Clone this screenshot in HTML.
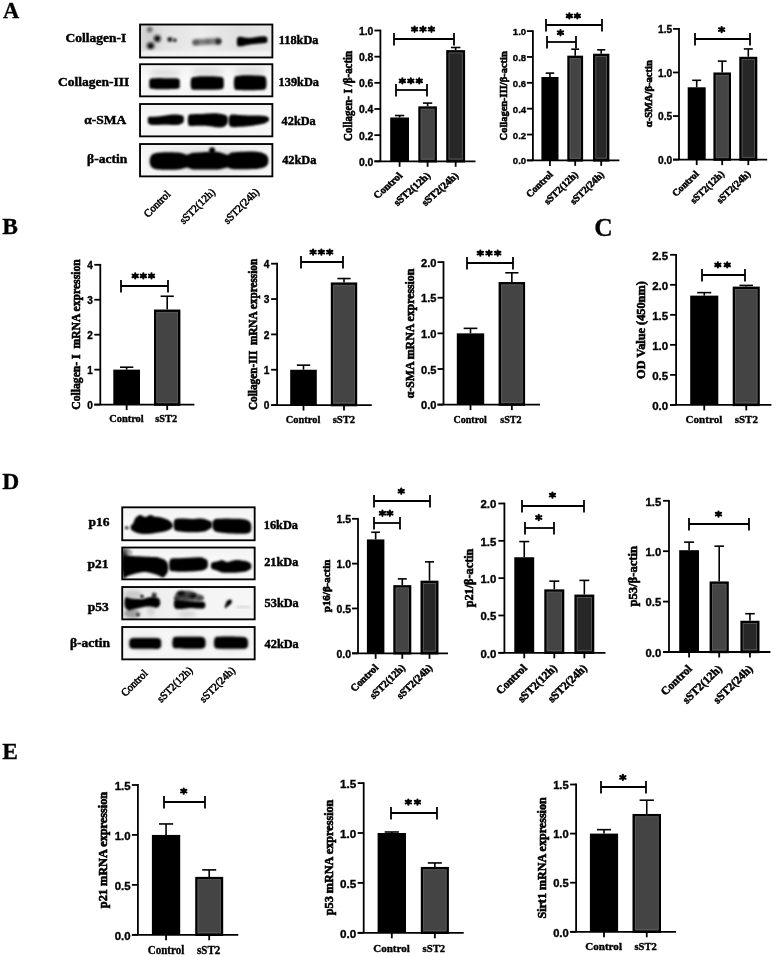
<!DOCTYPE html>
<html><head><meta charset="utf-8"><title>Figure</title>
<style>html,body{margin:0;padding:0;background:#fff;width:779px;height:957px;overflow:hidden;font-family:"Liberation Serif",serif}svg{display:block;filter:grayscale(1)}</style>
</head><body>
<svg width="779" height="957" viewBox="0 0 779 957"><defs>
<linearGradient id="bg" x1="0" y1="0" x2="0" y2="1"><stop offset="0" stop-color="#f2f2f2"/><stop offset="0.5" stop-color="#fafafa"/><stop offset="1" stop-color="#f4f4f4"/></linearGradient>
<linearGradient id="bg1" x1="0" y1="0" x2="1" y2="0"><stop offset="0" stop-color="#d6d6d6"/><stop offset="0.2" stop-color="#e2e2e2"/><stop offset="0.45" stop-color="#ececec"/><stop offset="0.75" stop-color="#e0e0e0"/><stop offset="1" stop-color="#e6e6e6"/></linearGradient>
<linearGradient id="bg2" x1="0" y1="0" x2="1" y2="0"><stop offset="0" stop-color="#e6e6e6"/><stop offset="0.5" stop-color="#f4f4f4"/><stop offset="1" stop-color="#f6f6f6"/></linearGradient>
<clipPath id="clip0"><rect x="140.03" y="24.53" width="132.35" height="32.95"/></clipPath><clipPath id="clip1"><rect x="140.03" y="64.22" width="132.35" height="32.15"/></clipPath><clipPath id="clip2"><rect x="140.03" y="104.02" width="132.35" height="32.35"/></clipPath><clipPath id="clip3"><rect x="140.03" y="144.03" width="132.35" height="32.35"/></clipPath><clipPath id="clip4"><rect x="122.22" y="507.32" width="132.45" height="32.95"/></clipPath><clipPath id="clip5"><rect x="122.22" y="547.52" width="132.45" height="31.85"/></clipPath><clipPath id="clip6"><rect x="122.22" y="587.02" width="132.45" height="32.35"/></clipPath><clipPath id="clip7"><rect x="122.22" y="627.02" width="132.45" height="32.35"/></clipPath><filter id="b5" x="-30%" y="-60%" width="160%" height="220%"><feGaussianBlur stdDeviation="0.5"/></filter><filter id="b6" x="-30%" y="-60%" width="160%" height="220%"><feGaussianBlur stdDeviation="0.6"/></filter><filter id="b7" x="-30%" y="-60%" width="160%" height="220%"><feGaussianBlur stdDeviation="0.7"/></filter><filter id="b8" x="-30%" y="-60%" width="160%" height="220%"><feGaussianBlur stdDeviation="0.8"/></filter><filter id="b9" x="-30%" y="-60%" width="160%" height="220%"><feGaussianBlur stdDeviation="0.9"/></filter><filter id="b10" x="-30%" y="-60%" width="160%" height="220%"><feGaussianBlur stdDeviation="1.0"/></filter><filter id="b11" x="-30%" y="-60%" width="160%" height="220%"><feGaussianBlur stdDeviation="1.1"/></filter><filter id="b12" x="-30%" y="-60%" width="160%" height="220%"><feGaussianBlur stdDeviation="1.2"/></filter><filter id="b13" x="-30%" y="-60%" width="160%" height="220%"><feGaussianBlur stdDeviation="1.3"/></filter><filter id="b14" x="-30%" y="-60%" width="160%" height="220%"><feGaussianBlur stdDeviation="1.4"/></filter><filter id="b15" x="-30%" y="-60%" width="160%" height="220%"><feGaussianBlur stdDeviation="1.5"/></filter><filter id="b16" x="-30%" y="-60%" width="160%" height="220%"><feGaussianBlur stdDeviation="1.6"/></filter><filter id="b17" x="-30%" y="-60%" width="160%" height="220%"><feGaussianBlur stdDeviation="1.7"/></filter><filter id="b18" x="-30%" y="-60%" width="160%" height="220%"><feGaussianBlur stdDeviation="1.8"/></filter><filter id="b19" x="-30%" y="-60%" width="160%" height="220%"><feGaussianBlur stdDeviation="1.9"/></filter><filter id="b20" x="-30%" y="-60%" width="160%" height="220%"><feGaussianBlur stdDeviation="2.0"/></filter><filter id="b21" x="-30%" y="-60%" width="160%" height="220%"><feGaussianBlur stdDeviation="2.1"/></filter><filter id="b22" x="-30%" y="-60%" width="160%" height="220%"><feGaussianBlur stdDeviation="2.2"/></filter><filter id="b23" x="-30%" y="-60%" width="160%" height="220%"><feGaussianBlur stdDeviation="2.3"/></filter><filter id="b24" x="-30%" y="-60%" width="160%" height="220%"><feGaussianBlur stdDeviation="2.4"/></filter><filter id="b25" x="-30%" y="-60%" width="160%" height="220%"><feGaussianBlur stdDeviation="2.5"/></filter><filter id="b26" x="-30%" y="-60%" width="160%" height="220%"><feGaussianBlur stdDeviation="2.6"/></filter><filter id="b27" x="-30%" y="-60%" width="160%" height="220%"><feGaussianBlur stdDeviation="2.7"/></filter><filter id="b28" x="-30%" y="-60%" width="160%" height="220%"><feGaussianBlur stdDeviation="2.8"/></filter><filter id="b29" x="-30%" y="-60%" width="160%" height="220%"><feGaussianBlur stdDeviation="2.9"/></filter><filter id="b30" x="-30%" y="-60%" width="160%" height="220%"><feGaussianBlur stdDeviation="3.0"/></filter></defs><rect x="140.03" y="24.53" width="132.35" height="32.95" fill="url(#bg1)"/><g clip-path="url(#clip0)"><ellipse cx="150.00" cy="38.00" rx="8.00" ry="14.00" fill="#c8c8c8" opacity="0.5" filter="url(#b30)"/><ellipse cx="149.70" cy="29.60" rx="2.60" ry="2.60" fill="#444" opacity="0.85" filter="url(#b18)"/><ellipse cx="157.30" cy="38.60" rx="3.40" ry="3.40" fill="#111" opacity="1" filter="url(#b16)"/><ellipse cx="150.60" cy="45.80" rx="3.60" ry="3.40" fill="#111" opacity="1" filter="url(#b16)"/><ellipse cx="169.90" cy="39.50" rx="2.60" ry="2.40" fill="#222" opacity="0.95" filter="url(#b11)"/><ellipse cx="174.80" cy="40.20" rx="2.00" ry="2.00" fill="#333" opacity="0.95" filter="url(#b10)"/><rect x="141" y="51" width="130" height="5.5" fill="#f4f4f4" filter="url(#b15)"/><path d="M192.55,42.55 C192.63,42.08 191.93,40.35 193.00,39.75 C194.07,39.15 196.83,39.10 199.00,38.95 C201.17,38.80 203.67,38.97 206.00,38.85 C208.33,38.73 210.67,38.38 213.00,38.25 C215.33,38.12 218.74,37.52 220.00,38.05 C221.26,38.58 220.54,40.32 220.54,41.45 C220.54,42.58 221.26,44.33 220.00,44.85 C218.74,45.37 215.33,44.55 213.00,44.55 C210.67,44.55 208.33,44.72 206.00,44.85 C203.67,44.98 201.17,45.27 199.00,45.35 C196.83,45.43 194.07,45.82 193.00,45.35 C191.93,44.88 192.63,43.02 192.55,42.55 Z" fill="#707070" opacity="0.9" filter="url(#b15)"/><ellipse cx="196.00" cy="42.50" rx="3.00" ry="2.20" fill="#555" opacity="0.8" filter="url(#b12)"/><ellipse cx="208.00" cy="41.50" rx="3.00" ry="2.00" fill="#666" opacity="0.7" filter="url(#b12)"/><ellipse cx="218.40" cy="41.30" rx="3.00" ry="2.60" fill="#2a2a2a" opacity="1" filter="url(#b12)"/><path d="M236.84,41.75 C236.95,41.07 236.81,38.47 237.50,37.65 C238.19,36.83 239.58,36.82 241.00,36.85 C242.42,36.88 244.17,37.68 246.00,37.85 C247.83,38.02 250.00,38.02 252.00,37.85 C254.00,37.68 256.00,37.10 258.00,36.85 C260.00,36.60 262.50,36.25 264.00,36.35 C265.50,36.45 266.43,36.86 267.00,37.45 C267.57,38.04 267.39,39.08 267.39,39.90 C267.39,40.72 267.57,41.77 267.00,42.35 C266.43,42.92 265.50,43.13 264.00,43.35 C262.50,43.57 260.00,43.50 258.00,43.65 C256.00,43.80 254.00,44.00 252.00,44.25 C250.00,44.50 247.83,44.80 246.00,45.15 C244.17,45.50 242.42,46.23 241.00,46.35 C239.58,46.47 238.19,46.62 237.50,45.85 C236.81,45.08 236.95,42.43 236.84,41.75 Z" fill="#000" opacity="1" filter="url(#b9)"/></g><rect x="140.03" y="24.53" width="132.35" height="32.95" fill="none" stroke="#000" stroke-width="1.85"/>
<rect x="140.03" y="64.22" width="132.35" height="32.15" fill="url(#bg)"/><g clip-path="url(#clip1)"><ellipse cx="165.00" cy="73.00" rx="16.00" ry="4.00" fill="#d8d8d8" opacity="0.8" filter="url(#b25)"/><ellipse cx="207.00" cy="72.00" rx="16.00" ry="4.50" fill="#d8d8d8" opacity="0.8" filter="url(#b25)"/><ellipse cx="250.00" cy="71.50" rx="16.00" ry="4.50" fill="#d8d8d8" opacity="0.8" filter="url(#b25)"/><path d="M149.25,83.65 C149.37,82.87 148.87,79.87 150.00,78.95 C151.13,78.03 153.67,78.27 156.00,78.15 C158.33,78.03 161.33,78.23 164.00,78.25 C166.67,78.27 169.50,78.13 172.00,78.25 C174.50,78.37 177.71,78.05 179.00,78.95 C180.29,79.85 179.75,82.08 179.75,83.65 C179.75,85.22 180.29,87.47 179.00,88.35 C177.71,89.23 174.50,88.80 172.00,88.95 C169.50,89.10 166.67,89.22 164.00,89.25 C161.33,89.28 158.33,89.30 156.00,89.15 C153.67,89.00 151.13,89.27 150.00,88.35 C148.87,87.43 149.37,84.43 149.25,83.65 Z" fill="#000" opacity="1" filter="url(#b9)"/><path d="M190.61,83.50 C190.76,82.58 190.60,79.09 191.50,77.95 C192.40,76.81 193.92,76.93 196.00,76.65 C198.08,76.37 201.33,76.32 204.00,76.25 C206.67,76.18 209.50,76.17 212.00,76.25 C214.50,76.33 217.17,76.50 219.00,76.75 C220.83,77.00 222.19,76.68 223.00,77.75 C223.81,78.82 223.86,81.35 223.86,83.15 C223.86,84.95 223.81,87.50 223.00,88.55 C222.19,89.60 220.83,89.25 219.00,89.45 C217.17,89.65 214.50,89.68 212.00,89.75 C209.50,89.82 206.67,89.85 204.00,89.85 C201.33,89.85 198.08,89.88 196.00,89.75 C193.92,89.62 192.40,90.09 191.50,89.05 C190.60,88.01 190.76,84.42 190.61,83.50 Z" fill="#000" opacity="1" filter="url(#b9)"/><path d="M233.82,83.05 C233.99,82.03 233.94,78.18 234.80,76.95 C235.66,75.72 236.97,75.92 239.00,75.65 C241.03,75.38 244.33,75.38 247.00,75.35 C249.67,75.32 252.50,75.38 255.00,75.45 C257.50,75.52 260.23,75.45 262.00,75.75 C263.77,76.05 264.85,76.04 265.60,77.25 C266.35,78.46 266.52,81.08 266.52,83.00 C266.52,84.92 266.35,87.61 265.60,88.75 C264.85,89.89 263.77,89.62 262.00,89.85 C260.23,90.08 257.50,90.10 255.00,90.15 C252.50,90.20 249.67,90.17 247.00,90.15 C244.33,90.13 241.03,90.22 239.00,90.05 C236.97,89.88 235.66,90.32 234.80,89.15 C233.94,87.98 233.99,84.07 233.82,83.05 Z" fill="#000" opacity="1" filter="url(#b9)"/></g><rect x="140.03" y="64.22" width="132.35" height="32.15" fill="none" stroke="#000" stroke-width="1.85"/>
<rect x="140.03" y="104.02" width="132.35" height="32.35" fill="url(#bg)"/><g clip-path="url(#clip2)"><path d="M147.80,120.20 C147.88,119.67 147.77,117.64 148.30,117.05 C148.83,116.46 149.38,116.75 151.00,116.65 C152.62,116.55 155.67,116.65 158.00,116.45 C160.33,116.25 162.67,115.78 165.00,115.45 C167.33,115.12 169.67,114.58 172.00,114.45 C174.33,114.32 177.12,114.40 179.00,114.65 C180.88,114.90 182.50,115.20 183.30,115.95 C184.10,116.70 183.81,118.08 183.81,119.15 C183.81,120.22 184.10,121.42 183.30,122.35 C182.50,123.28 180.88,124.30 179.00,124.75 C177.12,125.20 174.33,125.03 172.00,125.05 C169.67,125.07 167.33,124.85 165.00,124.85 C162.67,124.85 160.33,125.07 158.00,125.05 C155.67,125.03 152.62,125.03 151.00,124.75 C149.38,124.47 148.83,124.11 148.30,123.35 C147.77,122.59 147.88,120.72 147.80,120.20 Z" fill="#000" opacity="1" filter="url(#b9)"/><path d="M187.73,120.25 C187.86,119.45 187.96,116.45 188.50,115.45 C189.04,114.45 189.08,114.50 191.00,114.25 C192.92,114.00 196.83,114.08 200.00,113.95 C203.17,113.82 207.00,113.53 210.00,113.45 C213.00,113.37 215.67,113.28 218.00,113.45 C220.33,113.62 222.45,113.95 224.00,114.45 C225.55,114.95 226.66,115.53 227.30,116.45 C227.94,117.38 227.87,118.82 227.87,120.00 C227.87,121.18 227.94,122.42 227.30,123.55 C226.66,124.67 225.55,126.12 224.00,126.75 C222.45,127.38 220.33,127.45 218.00,127.35 C215.67,127.25 213.00,126.40 210.00,126.15 C207.00,125.90 203.17,125.87 200.00,125.85 C196.83,125.83 192.92,126.18 191.00,126.05 C189.08,125.92 189.04,126.02 188.50,125.05 C187.96,124.08 187.86,121.05 187.73,120.25 Z" fill="#000" opacity="1" filter="url(#b9)"/><path d="M228.51,120.75 C228.63,120.03 228.62,117.50 229.20,116.45 C229.78,115.40 230.20,114.70 232.00,114.45 C233.80,114.20 237.00,114.78 240.00,114.95 C243.00,115.12 247.00,115.37 250.00,115.45 C253.00,115.53 255.50,115.37 258.00,115.45 C260.50,115.53 263.23,115.62 265.00,115.95 C266.77,116.28 267.95,116.90 268.60,117.45 C269.25,118.00 268.89,118.65 268.89,119.25 C268.89,119.85 269.25,120.40 268.60,121.05 C267.95,121.70 266.77,122.53 265.00,123.15 C263.23,123.77 260.50,124.27 258.00,124.75 C255.50,125.23 253.00,125.70 250.00,126.05 C247.00,126.40 243.00,126.68 240.00,126.85 C237.00,127.02 233.80,127.35 232.00,127.05 C230.20,126.75 229.78,126.10 229.20,125.05 C228.62,124.00 228.63,121.47 228.51,120.75 Z" fill="#000" opacity="1" filter="url(#b9)"/></g><rect x="140.03" y="104.02" width="132.35" height="32.35" fill="none" stroke="#000" stroke-width="1.85"/>
<rect x="140.03" y="144.03" width="132.35" height="32.35" fill="url(#bg)"/><g clip-path="url(#clip3)"><ellipse cx="208.00" cy="160.50" rx="60.00" ry="10.50" fill="#bbb" opacity="0.5" filter="url(#b30)"/><path d="M149.69,161.25 C149.79,160.62 149.75,158.65 150.30,157.45 C150.85,156.25 151.38,154.87 153.00,154.05 C154.62,153.23 157.17,152.85 160.00,152.55 C162.83,152.25 166.67,152.20 170.00,152.25 C173.33,152.30 177.17,152.43 180.00,152.85 C182.83,153.27 185.00,154.73 187.00,154.75 C189.00,154.77 189.83,153.33 192.00,152.95 C194.17,152.57 196.67,152.63 200.00,152.45 C203.33,152.27 208.67,151.85 212.00,151.85 C215.33,151.85 217.40,151.98 220.00,152.45 C222.60,152.92 225.60,154.65 227.60,154.65 C229.60,154.65 229.10,152.95 232.00,152.45 C234.90,151.95 240.67,151.73 245.00,151.65 C249.33,151.57 254.67,151.57 258.00,151.95 C261.33,152.33 263.37,153.12 265.00,153.95 C266.63,154.78 267.24,155.86 267.80,156.95 C268.36,158.04 268.37,159.32 268.37,160.50 C268.37,161.68 268.36,162.96 267.80,164.05 C267.24,165.14 266.63,166.28 265.00,167.05 C263.37,167.82 261.33,168.30 258.00,168.65 C254.67,169.00 249.33,169.08 245.00,169.15 C240.67,169.22 234.90,169.32 232.00,169.05 C229.10,168.78 229.60,167.53 227.60,167.55 C225.60,167.57 222.60,168.82 220.00,169.15 C217.40,169.48 215.33,169.48 212.00,169.55 C208.67,169.62 203.33,169.62 200.00,169.55 C196.67,169.48 194.17,169.48 192.00,169.15 C189.83,168.82 189.00,167.53 187.00,167.55 C185.00,167.57 182.83,168.87 180.00,169.25 C177.17,169.63 173.33,169.80 170.00,169.85 C166.67,169.90 162.83,169.83 160.00,169.55 C157.17,169.27 154.62,168.90 153.00,168.15 C151.38,167.40 150.85,166.20 150.30,165.05 C149.75,163.90 149.79,161.88 149.69,161.25 Z" fill="#000" opacity="1" filter="url(#b10)"/><ellipse cx="212.10" cy="150.60" rx="3.00" ry="3.40" fill="#000" opacity="1" filter="url(#b11)"/></g><rect x="140.03" y="144.03" width="132.35" height="32.35" fill="none" stroke="#000" stroke-width="1.85"/>
<rect x="122.22" y="507.32" width="132.45" height="32.95" fill="url(#bg)"/><g clip-path="url(#clip4)"><ellipse cx="126.70" cy="527.70" rx="1.80" ry="1.50" fill="#111" opacity="1" filter="url(#b9)"/><path d="M130.67,527.50 C130.73,527.16 130.61,526.12 131.00,525.45 C131.39,524.78 132.28,524.67 133.00,523.45 C133.72,522.23 134.47,519.40 135.30,518.15 C136.13,516.90 137.10,516.47 138.00,515.95 C138.90,515.43 139.50,514.87 140.70,515.05 C141.90,515.23 143.57,517.05 145.20,517.05 C146.83,517.05 149.02,515.15 150.50,515.05 C151.98,514.95 152.45,516.08 154.10,516.45 C155.75,516.82 158.30,516.78 160.40,517.25 C162.50,517.72 165.05,518.55 166.70,519.25 C168.35,519.95 169.33,520.67 170.30,521.45 C171.27,522.23 172.09,523.25 172.50,523.95 C172.91,524.65 172.77,525.08 172.77,525.65 C172.77,526.22 172.91,526.73 172.50,527.35 C172.09,527.97 171.27,528.75 170.30,529.35 C169.33,529.95 168.35,530.45 166.70,530.95 C165.05,531.45 162.50,531.95 160.40,532.35 C158.30,532.75 155.75,533.10 154.10,533.35 C152.45,533.60 151.98,533.73 150.50,533.85 C149.02,533.97 146.83,534.07 145.20,534.05 C143.57,534.03 141.90,533.90 140.70,533.75 C139.50,533.60 138.90,533.38 138.00,533.15 C137.10,532.92 136.13,532.70 135.30,532.35 C134.47,532.00 133.72,531.52 133.00,531.05 C132.28,530.58 131.39,530.14 131.00,529.55 C130.61,528.96 130.73,527.84 130.67,527.50 Z" fill="#000" opacity="1" filter="url(#b10)"/><path d="M173.51,524.75 C173.63,524.03 173.70,521.47 174.20,520.45 C174.70,519.43 174.87,518.98 176.50,518.65 C178.13,518.32 181.42,518.38 184.00,518.45 C186.58,518.52 189.33,519.05 192.00,519.05 C194.67,519.05 197.67,518.38 200.00,518.45 C202.33,518.52 204.08,518.87 206.00,519.45 C207.92,520.03 210.51,521.07 211.50,521.95 C212.49,522.83 211.95,523.82 211.95,524.75 C211.95,525.68 212.49,526.50 211.50,527.55 C210.51,528.60 207.92,530.32 206.00,531.05 C204.08,531.78 202.33,531.73 200.00,531.95 C197.67,532.17 194.67,532.33 192.00,532.35 C189.33,532.37 186.58,532.27 184.00,532.05 C181.42,531.83 178.13,531.55 176.50,531.05 C174.87,530.55 174.70,530.10 174.20,529.05 C173.70,528.00 173.63,525.47 173.51,524.75 Z" fill="#000" opacity="1" filter="url(#b10)"/><path d="M212.23,525.00 C212.33,524.41 212.24,522.46 212.80,521.45 C213.36,520.44 214.07,519.42 215.60,518.95 C217.13,518.48 219.27,518.70 222.00,518.65 C224.73,518.60 229.00,518.62 232.00,518.65 C235.00,518.68 237.50,518.63 240.00,518.85 C242.50,519.07 245.23,519.27 247.00,519.95 C248.77,520.63 249.89,521.73 250.60,522.95 C251.31,524.17 251.29,525.82 251.29,527.25 C251.29,528.68 251.31,530.50 250.60,531.55 C249.89,532.60 248.77,533.18 247.00,533.55 C245.23,533.92 242.50,533.75 240.00,533.75 C237.50,533.75 235.00,533.72 232.00,533.55 C229.00,533.38 224.73,533.08 222.00,532.75 C219.27,532.42 217.13,532.25 215.60,531.55 C214.07,530.85 213.36,529.64 212.80,528.55 C212.24,527.46 212.33,525.59 212.23,525.00 Z" fill="#000" opacity="1" filter="url(#b10)"/></g><rect x="122.22" y="507.32" width="132.45" height="32.95" fill="none" stroke="#000" stroke-width="1.85"/>
<rect x="122.22" y="547.52" width="132.45" height="31.85" fill="url(#bg)"/><g clip-path="url(#clip5)"><path d="M121.25,563.65 C121.64,561.20 122.81,550.73 123.60,548.95 C124.39,547.17 125.10,551.87 126.00,552.95 C126.90,554.03 127.00,554.88 129.00,555.45 C131.00,556.02 135.00,556.15 138.00,556.35 C141.00,556.55 144.00,556.53 147.00,556.65 C150.00,556.77 153.77,556.80 156.00,557.05 C158.23,557.30 159.22,557.83 160.40,558.15 C161.58,558.47 162.20,558.50 163.10,558.95 C164.00,559.40 165.05,560.10 165.80,560.85 C166.55,561.60 167.19,562.30 167.60,563.45 C168.01,564.60 168.29,566.32 168.29,567.75 C168.29,569.18 168.01,570.83 167.60,572.05 C167.19,573.27 166.55,574.13 165.80,575.05 C165.05,575.97 164.00,577.30 163.10,577.55 C162.20,577.80 161.58,577.05 160.40,576.55 C159.22,576.05 158.23,575.28 156.00,574.55 C153.77,573.82 150.00,572.42 147.00,572.15 C144.00,571.88 141.00,572.38 138.00,572.95 C135.00,573.52 131.00,574.87 129.00,575.55 C127.00,576.23 126.90,576.58 126.00,577.05 C125.10,577.52 124.39,580.58 123.60,578.35 C122.81,576.12 121.64,566.10 121.25,563.65 Z" fill="#000" opacity="1" filter="url(#b10)"/><ellipse cx="126.00" cy="552.00" rx="3.50" ry="4.00" fill="#555" opacity="0.8" filter="url(#b15)"/><ellipse cx="129.90" cy="552.60" rx="2.50" ry="2.50" fill="#999" opacity="0.7" filter="url(#b12)"/><path d="M169.03,565.25 C169.16,564.45 169.31,561.58 169.80,560.45 C170.29,559.32 170.30,558.83 172.00,558.45 C173.70,558.07 177.00,558.27 180.00,558.15 C183.00,558.03 186.75,557.90 190.00,557.75 C193.25,557.60 197.17,557.17 199.50,557.25 C201.83,557.33 202.70,557.72 204.00,558.25 C205.30,558.78 206.66,559.49 207.30,560.45 C207.94,561.41 207.87,562.82 207.87,564.00 C207.87,565.18 207.94,566.56 207.30,567.55 C206.66,568.54 205.30,569.42 204.00,569.95 C202.70,570.48 201.83,570.48 199.50,570.75 C197.17,571.02 193.25,571.37 190.00,571.55 C186.75,571.73 183.00,571.88 180.00,571.85 C177.00,571.82 173.70,571.65 172.00,571.35 C170.30,571.05 170.29,571.07 169.80,570.05 C169.31,569.03 169.16,566.05 169.03,565.25 Z" fill="#000" opacity="1" filter="url(#b10)"/><path d="M210.89,565.80 C210.96,565.38 210.95,563.84 211.30,563.25 C211.65,562.66 211.88,562.58 213.00,562.25 C214.12,561.92 216.50,561.63 218.00,561.25 C219.50,560.87 220.45,559.82 222.00,559.95 C223.55,560.08 225.07,562.05 227.30,562.05 C229.53,562.05 232.55,560.15 235.40,559.95 C238.25,559.75 242.15,560.47 244.40,560.85 C246.65,561.23 247.80,561.73 248.90,562.25 C250.00,562.77 250.59,563.28 251.00,563.95 C251.41,564.62 251.37,565.48 251.37,566.25 C251.37,567.02 251.41,567.92 251.00,568.55 C250.59,569.18 250.00,569.50 248.90,570.05 C247.80,570.60 246.65,571.40 244.40,571.85 C242.15,572.30 238.25,572.60 235.40,572.75 C232.55,572.90 229.53,572.78 227.30,572.75 C225.07,572.72 223.55,572.83 222.00,572.55 C220.45,572.27 219.50,571.58 218.00,571.05 C216.50,570.52 214.12,569.80 213.00,569.35 C211.88,568.90 211.65,568.94 211.30,568.35 C210.95,567.76 210.96,566.22 210.89,565.80 Z" fill="#000" opacity="1" filter="url(#b10)"/></g><rect x="122.22" y="547.52" width="132.45" height="31.85" fill="none" stroke="#000" stroke-width="1.85"/>
<rect x="122.22" y="587.02" width="132.45" height="32.35" fill="url(#bg2)"/><g clip-path="url(#clip6)"><ellipse cx="133.00" cy="594.50" rx="9.00" ry="4.00" fill="#c4c4c4" opacity="0.8" filter="url(#b18)"/><ellipse cx="132.00" cy="613.50" rx="8.00" ry="4.50" fill="#8c8c8c" opacity="0.8" filter="url(#b18)"/><ellipse cx="138.00" cy="614.90" rx="1.60" ry="1.40" fill="#111" opacity="1" filter="url(#b9)"/><ellipse cx="142.00" cy="596.30" rx="1.70" ry="1.60" fill="#000" opacity="1" filter="url(#b8)"/><ellipse cx="151.00" cy="611.00" rx="3.00" ry="5.00" fill="#bbb" opacity="0.6" filter="url(#b20)"/><ellipse cx="154.10" cy="595.50" rx="2.50" ry="3.00" fill="#222" opacity="0.9" filter="url(#b11)"/><path d="M124.31,602.75 C124.43,602.03 124.67,599.37 125.00,598.45 C125.33,597.53 125.63,597.33 126.30,597.25 C126.97,597.17 127.80,597.70 129.00,597.95 C130.20,598.20 132.00,598.57 133.50,598.75 C135.00,598.93 136.50,599.00 138.00,599.05 C139.50,599.10 141.00,599.27 142.50,599.05 C144.00,598.83 145.42,598.10 147.00,597.75 C148.58,597.40 150.50,597.00 152.00,596.95 C153.50,596.90 154.92,597.23 156.00,597.45 C157.08,597.67 157.87,597.83 158.50,598.25 C159.13,598.67 159.51,599.22 159.80,599.95 C160.09,600.68 160.23,601.75 160.23,602.65 C160.23,603.55 160.09,604.65 159.80,605.35 C159.51,606.05 159.13,606.43 158.50,606.85 C157.87,607.27 157.08,607.85 156.00,607.85 C154.92,607.85 153.50,607.07 152.00,606.85 C150.50,606.63 148.58,606.47 147.00,606.55 C145.42,606.63 144.00,607.08 142.50,607.35 C141.00,607.62 139.50,607.82 138.00,608.15 C136.50,608.48 135.00,608.95 133.50,609.35 C132.00,609.75 130.20,610.65 129.00,610.55 C127.80,610.45 126.97,609.33 126.30,608.75 C125.63,608.17 125.33,608.05 125.00,607.05 C124.67,606.05 124.43,603.47 124.31,602.75 Z" fill="#000" opacity="1" filter="url(#b9)"/><ellipse cx="188.00" cy="597.50" rx="13.00" ry="5.50" fill="#6a6a6a" opacity="0.85" filter="url(#b16)"/><ellipse cx="186.00" cy="595.50" rx="10.50" ry="4.50" fill="#3a3a3a" opacity="0.9" filter="url(#b14)"/><ellipse cx="181.00" cy="593.50" rx="4.00" ry="2.50" fill="#111" opacity="1" filter="url(#b10)"/><ellipse cx="193.00" cy="596.00" rx="3.50" ry="2.20" fill="#111" opacity="1" filter="url(#b10)"/><ellipse cx="200.00" cy="598.00" rx="4.00" ry="3.00" fill="#444" opacity="0.9" filter="url(#b13)"/><ellipse cx="177.00" cy="598.50" rx="3.00" ry="2.50" fill="#333" opacity="0.9" filter="url(#b12)"/><ellipse cx="187.00" cy="614.00" rx="9.00" ry="4.00" fill="#c8c8c8" opacity="0.6" filter="url(#b20)"/><path d="M173.81,604.00 C173.89,603.49 173.94,601.66 174.30,600.95 C174.66,600.24 174.72,599.87 176.00,599.75 C177.28,599.63 179.67,600.00 182.00,600.25 C184.33,600.50 187.33,601.05 190.00,601.25 C192.67,601.45 195.83,601.37 198.00,601.45 C200.17,601.53 201.83,601.50 203.00,601.75 C204.17,602.00 204.61,602.38 205.00,602.95 C205.39,603.52 205.35,604.42 205.35,605.15 C205.35,605.88 205.39,606.78 205.00,607.35 C204.61,607.92 204.17,608.35 203.00,608.55 C201.83,608.75 200.17,608.63 198.00,608.55 C195.83,608.47 192.67,607.97 190.00,608.05 C187.33,608.13 184.33,608.93 182.00,609.05 C179.67,609.17 177.28,609.08 176.00,608.75 C174.72,608.42 174.66,607.84 174.30,607.05 C173.94,606.26 173.89,604.51 173.81,604.00 Z" fill="#000" opacity="1" filter="url(#b9)"/><path d="M231.8,600.5 C232.5,603.5 229.8,605 227.5,606.5 C226.5,607.5 225.5,608.8 224.8,607.8 C224.3,606.5 225.6,604.8 226,603 C226.5,600.5 228.5,599.3 230.2,599.4 C231.2,599.5 231.7,599.9 231.8,600.5 Z" fill="#000" filter="url(#b8)"/><ellipse cx="243.00" cy="607.00" rx="8.00" ry="0.90" fill="#bbb" opacity="0.6" filter="url(#b10)"/></g><rect x="122.22" y="587.02" width="132.45" height="32.35" fill="none" stroke="#000" stroke-width="1.85"/>
<rect x="122.22" y="627.02" width="132.45" height="32.35" fill="url(#bg)"/><g clip-path="url(#clip7)"><ellipse cx="145.00" cy="643.30" rx="19.00" ry="8.00" fill="#d0d0d0" opacity="0.6" filter="url(#b25)"/><ellipse cx="189.00" cy="643.00" rx="19.00" ry="8.00" fill="#d0d0d0" opacity="0.6" filter="url(#b25)"/><ellipse cx="231.00" cy="643.00" rx="20.00" ry="8.00" fill="#d0d0d0" opacity="0.6" filter="url(#b25)"/><path d="M129.23,643.50 C129.33,642.91 129.34,640.83 129.80,639.95 C130.26,639.08 130.30,638.57 132.00,638.25 C133.70,637.93 137.00,638.08 140.00,638.05 C143.00,638.02 147.17,638.05 150.00,638.05 C152.83,638.05 155.25,637.82 157.00,638.05 C158.75,638.28 159.81,638.54 160.50,639.45 C161.19,640.36 161.15,642.15 161.15,643.50 C161.15,644.85 161.19,646.64 160.50,647.55 C159.81,648.46 158.75,648.73 157.00,648.95 C155.25,649.17 152.83,648.87 150.00,648.85 C147.17,648.83 143.00,648.90 140.00,648.85 C137.00,648.80 133.70,648.85 132.00,648.55 C130.30,648.25 130.26,647.89 129.80,647.05 C129.34,646.21 129.33,644.09 129.23,643.50 Z" fill="#000" opacity="1" filter="url(#b12)"/><path d="M172.35,643.00 C172.46,642.33 172.56,639.94 173.00,638.95 C173.44,637.96 173.00,637.42 175.00,637.05 C177.00,636.68 181.67,636.80 185.00,636.75 C188.33,636.70 192.17,636.72 195.00,636.75 C197.83,636.78 200.35,636.58 202.00,636.95 C203.65,637.32 204.31,637.94 204.90,638.95 C205.49,639.96 205.55,641.65 205.55,643.00 C205.55,644.35 205.49,646.14 204.90,647.05 C204.31,647.96 203.65,648.18 202.00,648.45 C200.35,648.72 197.83,648.62 195.00,648.65 C192.17,648.68 188.33,648.70 185.00,648.65 C181.67,648.60 177.00,648.62 175.00,648.35 C173.00,648.08 173.44,647.94 173.00,647.05 C172.56,646.16 172.46,643.67 172.35,643.00 Z" fill="#000" opacity="1" filter="url(#b12)"/><path d="M213.95,643.00 C214.06,642.33 214.09,639.98 214.60,638.95 C215.11,637.93 214.77,637.27 217.00,636.85 C219.23,636.43 224.50,636.47 228.00,636.45 C231.50,636.43 235.17,636.62 238.00,636.75 C240.83,636.88 243.43,636.80 245.00,637.25 C246.57,637.70 246.90,638.45 247.40,639.45 C247.90,640.45 248.01,641.98 248.01,643.25 C248.01,644.52 247.90,646.15 247.40,647.05 C246.90,647.95 246.57,648.35 245.00,648.65 C243.43,648.95 240.83,648.83 238.00,648.85 C235.17,648.87 231.50,648.80 228.00,648.75 C224.50,648.70 219.23,648.83 217.00,648.55 C214.77,648.27 215.11,647.97 214.60,647.05 C214.09,646.12 214.06,643.67 213.95,643.00 Z" fill="#000" opacity="1" filter="url(#b12)"/></g><rect x="122.22" y="627.02" width="132.45" height="32.35" fill="none" stroke="#000" stroke-width="1.85"/>
<line x1="399.60" y1="117.48" x2="399.60" y2="115.52" stroke="#000" stroke-width="1.6"/>
<line x1="394.90" y1="115.52" x2="404.30" y2="115.52" stroke="#000" stroke-width="1.6"/>
<rect x="390.20" y="117.48" width="18.80" height="43.82" fill="#000"/>
<line x1="427.60" y1="106.36" x2="427.60" y2="103.09" stroke="#000" stroke-width="1.6"/>
<line x1="422.95" y1="103.09" x2="432.25" y2="103.09" stroke="#000" stroke-width="1.6"/>
<rect x="419.50" y="107.56" width="16.20" height="53.74" fill="#444444" stroke="#000" stroke-width="2.4"/>
<rect x="421.10" y="109.16" width="13.00" height="49.84" fill="none" stroke="#5c5c5c" stroke-width="0.8"/>
<line x1="455.65" y1="50.12" x2="455.65" y2="47.50" stroke="#000" stroke-width="1.6"/>
<line x1="450.92" y1="47.50" x2="460.38" y2="47.50" stroke="#000" stroke-width="1.6"/>
<rect x="447.40" y="51.32" width="16.50" height="109.98" fill="#272727" stroke="#000" stroke-width="2.4"/>
<rect x="449.00" y="52.92" width="13.30" height="106.08" fill="none" stroke="#5c5c5c" stroke-width="0.8"/>
<line x1="380.40" y1="29.60" x2="380.40" y2="161.30" stroke="#000" stroke-width="1.8"/>
<line x1="374.40" y1="161.30" x2="475.50" y2="161.30" stroke="#000" stroke-width="1.8"/>
<line x1="374.40" y1="161.30" x2="380.40" y2="161.30" stroke="#000" stroke-width="1.8"/>
<text x="373.40" y="165.67" text-anchor="end" font-family="'Liberation Sans', sans-serif" font-weight="bold" font-size="10.4" stroke="#000" stroke-width="0.35">0.0</text>
<line x1="374.40" y1="135.14" x2="380.40" y2="135.14" stroke="#000" stroke-width="1.8"/>
<text x="373.40" y="139.51" text-anchor="end" font-family="'Liberation Sans', sans-serif" font-weight="bold" font-size="10.4" stroke="#000" stroke-width="0.35">0.2</text>
<line x1="374.40" y1="108.98" x2="380.40" y2="108.98" stroke="#000" stroke-width="1.8"/>
<text x="373.40" y="113.35" text-anchor="end" font-family="'Liberation Sans', sans-serif" font-weight="bold" font-size="10.4" stroke="#000" stroke-width="0.35">0.4</text>
<line x1="374.40" y1="82.82" x2="380.40" y2="82.82" stroke="#000" stroke-width="1.8"/>
<text x="373.40" y="87.19" text-anchor="end" font-family="'Liberation Sans', sans-serif" font-weight="bold" font-size="10.4" stroke="#000" stroke-width="0.35">0.6</text>
<line x1="374.40" y1="56.66" x2="380.40" y2="56.66" stroke="#000" stroke-width="1.8"/>
<text x="373.40" y="61.03" text-anchor="end" font-family="'Liberation Sans', sans-serif" font-weight="bold" font-size="10.4" stroke="#000" stroke-width="0.35">0.8</text>
<line x1="374.40" y1="30.50" x2="380.40" y2="30.50" stroke="#000" stroke-width="1.8"/>
<text x="373.40" y="34.87" text-anchor="end" font-family="'Liberation Sans', sans-serif" font-weight="bold" font-size="10.4" stroke="#000" stroke-width="0.35">1.0</text>
<line x1="399.60" y1="161.30" x2="399.60" y2="166.80" stroke="#000" stroke-width="1.8"/>
<line x1="427.60" y1="161.30" x2="427.60" y2="166.80" stroke="#000" stroke-width="1.8"/>
<line x1="455.65" y1="161.30" x2="455.65" y2="166.80" stroke="#000" stroke-width="1.8"/>
<line x1="394.00" y1="39.00" x2="454.00" y2="39.00" stroke="#000" stroke-width="1.8"/>
<line x1="394.00" y1="33.00" x2="394.00" y2="45.50" stroke="#000" stroke-width="1.8"/>
<line x1="454.00" y1="33.00" x2="454.00" y2="45.50" stroke="#000" stroke-width="1.8"/>
<path d="M414.55,26.55L414.55,31.85M411.91,27.88L417.19,30.52M411.91,30.52L417.19,27.88" stroke="#000" stroke-width="2.1" stroke-linecap="round" fill="none"/><path d="M423.00,26.55L423.00,31.85M420.36,27.88L425.64,30.52M420.36,30.52L425.64,27.88" stroke="#000" stroke-width="2.1" stroke-linecap="round" fill="none"/><path d="M431.45,26.55L431.45,31.85M428.81,27.88L434.09,30.52M428.81,30.52L434.09,27.88" stroke="#000" stroke-width="2.1" stroke-linecap="round" fill="none"/>
<line x1="396.00" y1="90.00" x2="427.00" y2="90.00" stroke="#000" stroke-width="1.8"/>
<line x1="396.00" y1="84.00" x2="396.00" y2="96.50" stroke="#000" stroke-width="1.8"/>
<line x1="427.00" y1="84.00" x2="427.00" y2="96.50" stroke="#000" stroke-width="1.8"/>
<path d="M402.35,78.25L402.35,83.55M399.71,79.58L404.99,82.23M399.71,82.23L404.99,79.58" stroke="#000" stroke-width="2.1" stroke-linecap="round" fill="none"/><path d="M410.80,78.25L410.80,83.55M408.16,79.58L413.44,82.23M408.16,82.23L413.44,79.58" stroke="#000" stroke-width="2.1" stroke-linecap="round" fill="none"/><path d="M419.25,78.25L419.25,83.55M416.61,79.58L421.89,82.23M416.61,82.23L421.89,79.58" stroke="#000" stroke-width="2.1" stroke-linecap="round" fill="none"/>
<text transform="translate(351.80,95.85) rotate(-90)" text-anchor="middle" font-family="'Liberation Serif', serif" font-weight="bold" font-size="12.15" textLength="90.10" lengthAdjust="spacingAndGlyphs" stroke="#000" stroke-width="0.6">Collagen- I /β-actin</text>
<text transform="translate(403.10,176.30) scale(1.11,1) rotate(-45)" text-anchor="end" font-family="'Liberation Serif', serif" font-weight="bold" font-size="9.8" stroke="#000" stroke-width="0.5">Control</text>
<text transform="translate(431.10,176.30) scale(1.11,1) rotate(-45)" text-anchor="end" font-family="'Liberation Serif', serif" font-weight="bold" font-size="9.8" stroke="#000" stroke-width="0.5">sST2(12h)</text>
<text transform="translate(459.15,176.30) scale(1.11,1) rotate(-45)" text-anchor="end" font-family="'Liberation Serif', serif" font-weight="bold" font-size="9.8" stroke="#000" stroke-width="0.5">sST2(24h)</text>
<line x1="549.95" y1="77.00" x2="549.95" y2="73.12" stroke="#000" stroke-width="1.6"/>
<line x1="545.68" y1="73.12" x2="554.23" y2="73.12" stroke="#000" stroke-width="1.6"/>
<rect x="541.40" y="77.00" width="17.10" height="83.40" fill="#000"/>
<line x1="575.20" y1="55.67" x2="575.20" y2="49.20" stroke="#000" stroke-width="1.6"/>
<line x1="571.25" y1="49.20" x2="579.15" y2="49.20" stroke="#000" stroke-width="1.6"/>
<rect x="568.50" y="56.87" width="13.40" height="103.53" fill="#444444" stroke="#000" stroke-width="2.4"/>
<rect x="570.10" y="58.47" width="10.20" height="99.63" fill="none" stroke="#5c5c5c" stroke-width="0.8"/>
<line x1="601.20" y1="53.73" x2="601.20" y2="49.85" stroke="#000" stroke-width="1.6"/>
<line x1="597.10" y1="49.85" x2="605.30" y2="49.85" stroke="#000" stroke-width="1.6"/>
<rect x="594.20" y="54.93" width="14.00" height="105.47" fill="#272727" stroke="#000" stroke-width="2.4"/>
<rect x="595.80" y="56.53" width="10.80" height="101.57" fill="none" stroke="#5c5c5c" stroke-width="0.8"/>
<line x1="532.90" y1="30.20" x2="532.90" y2="160.40" stroke="#000" stroke-width="1.8"/>
<line x1="526.90" y1="160.40" x2="619.40" y2="160.40" stroke="#000" stroke-width="1.8"/>
<line x1="526.90" y1="160.40" x2="532.90" y2="160.40" stroke="#000" stroke-width="1.8"/>
<text x="526.20" y="164.43" text-anchor="end" font-family="'Liberation Sans', sans-serif" font-weight="bold" font-size="9.6" stroke="#000" stroke-width="0.35">0.0</text>
<line x1="526.90" y1="134.54" x2="532.90" y2="134.54" stroke="#000" stroke-width="1.8"/>
<text x="526.20" y="138.57" text-anchor="end" font-family="'Liberation Sans', sans-serif" font-weight="bold" font-size="9.6" stroke="#000" stroke-width="0.35">0.2</text>
<line x1="526.90" y1="108.68" x2="532.90" y2="108.68" stroke="#000" stroke-width="1.8"/>
<text x="526.20" y="112.71" text-anchor="end" font-family="'Liberation Sans', sans-serif" font-weight="bold" font-size="9.6" stroke="#000" stroke-width="0.35">0.4</text>
<line x1="526.90" y1="82.82" x2="532.90" y2="82.82" stroke="#000" stroke-width="1.8"/>
<text x="526.20" y="86.85" text-anchor="end" font-family="'Liberation Sans', sans-serif" font-weight="bold" font-size="9.6" stroke="#000" stroke-width="0.35">0.6</text>
<line x1="526.90" y1="56.96" x2="532.90" y2="56.96" stroke="#000" stroke-width="1.8"/>
<text x="526.20" y="60.99" text-anchor="end" font-family="'Liberation Sans', sans-serif" font-weight="bold" font-size="9.6" stroke="#000" stroke-width="0.35">0.8</text>
<line x1="526.90" y1="31.10" x2="532.90" y2="31.10" stroke="#000" stroke-width="1.8"/>
<text x="526.20" y="35.13" text-anchor="end" font-family="'Liberation Sans', sans-serif" font-weight="bold" font-size="9.6" stroke="#000" stroke-width="0.35">1.0</text>
<line x1="549.95" y1="160.40" x2="549.95" y2="165.90" stroke="#000" stroke-width="1.8"/>
<line x1="575.20" y1="160.40" x2="575.20" y2="165.90" stroke="#000" stroke-width="1.8"/>
<line x1="601.20" y1="160.40" x2="601.20" y2="165.90" stroke="#000" stroke-width="1.8"/>
<line x1="546.00" y1="25.00" x2="602.00" y2="25.00" stroke="#000" stroke-width="1.8"/>
<line x1="546.00" y1="19.00" x2="546.00" y2="31.50" stroke="#000" stroke-width="1.8"/>
<line x1="602.00" y1="19.00" x2="602.00" y2="31.50" stroke="#000" stroke-width="1.8"/>
<path d="M569.35,13.25L569.35,18.55M566.71,14.58L571.99,17.23M566.71,17.23L571.99,14.58" stroke="#000" stroke-width="2.1" stroke-linecap="round" fill="none"/><path d="M577.35,13.25L577.35,18.55M574.71,14.58L579.99,17.23M574.71,17.23L579.99,14.58" stroke="#000" stroke-width="2.1" stroke-linecap="round" fill="none"/>
<line x1="547.00" y1="42.00" x2="576.00" y2="42.00" stroke="#000" stroke-width="1.8"/>
<line x1="547.00" y1="36.00" x2="547.00" y2="48.50" stroke="#000" stroke-width="1.8"/>
<line x1="576.00" y1="36.00" x2="576.00" y2="48.50" stroke="#000" stroke-width="1.8"/>
<path d="M560.45,30.05L560.45,35.35M557.81,31.38L563.09,34.03M557.81,34.03L563.09,31.38" stroke="#000" stroke-width="2.1" stroke-linecap="round" fill="none"/>
<text transform="translate(506.50,95.80) rotate(-90)" text-anchor="middle" font-family="'Liberation Serif', serif" font-weight="bold" font-size="11.25" textLength="89.20" lengthAdjust="spacingAndGlyphs" stroke="#000" stroke-width="0.6">Collagen-III/β-actin</text>
<text transform="translate(553.45,175.10) scale(1.03,1) rotate(-45)" text-anchor="end" font-family="'Liberation Serif', serif" font-weight="bold" font-size="9.75" stroke="#000" stroke-width="0.5">Control</text>
<text transform="translate(578.70,175.10) scale(1.03,1) rotate(-45)" text-anchor="end" font-family="'Liberation Serif', serif" font-weight="bold" font-size="9.75" stroke="#000" stroke-width="0.5">sST2(12h)</text>
<text transform="translate(604.70,175.10) scale(1.03,1) rotate(-45)" text-anchor="end" font-family="'Liberation Serif', serif" font-weight="bold" font-size="9.75" stroke="#000" stroke-width="0.5">sST2(24h)</text>
<line x1="696.70" y1="87.28" x2="696.70" y2="80.31" stroke="#000" stroke-width="1.6"/>
<line x1="692.20" y1="80.31" x2="701.20" y2="80.31" stroke="#000" stroke-width="1.6"/>
<rect x="687.70" y="87.28" width="18.00" height="72.32" fill="#000"/>
<line x1="722.20" y1="72.47" x2="722.20" y2="61.14" stroke="#000" stroke-width="1.6"/>
<line x1="717.80" y1="61.14" x2="726.60" y2="61.14" stroke="#000" stroke-width="1.6"/>
<rect x="714.60" y="73.67" width="15.20" height="85.93" fill="#444444" stroke="#000" stroke-width="2.4"/>
<rect x="716.20" y="75.27" width="12.00" height="82.03" fill="none" stroke="#5c5c5c" stroke-width="0.8"/>
<line x1="748.30" y1="56.78" x2="748.30" y2="48.94" stroke="#000" stroke-width="1.6"/>
<line x1="743.80" y1="48.94" x2="752.80" y2="48.94" stroke="#000" stroke-width="1.6"/>
<rect x="740.50" y="57.98" width="15.60" height="101.62" fill="#272727" stroke="#000" stroke-width="2.4"/>
<rect x="742.10" y="59.58" width="12.40" height="97.72" fill="none" stroke="#5c5c5c" stroke-width="0.8"/>
<line x1="679.00" y1="28.00" x2="679.00" y2="159.60" stroke="#000" stroke-width="1.8"/>
<line x1="673.00" y1="159.60" x2="767.20" y2="159.60" stroke="#000" stroke-width="1.8"/>
<line x1="673.00" y1="159.60" x2="679.00" y2="159.60" stroke="#000" stroke-width="1.8"/>
<text x="672.20" y="163.88" text-anchor="end" font-family="'Liberation Sans', sans-serif" font-weight="bold" font-size="10.2" stroke="#000" stroke-width="0.35">0.0</text>
<line x1="673.00" y1="116.03" x2="679.00" y2="116.03" stroke="#000" stroke-width="1.8"/>
<text x="672.20" y="120.32" text-anchor="end" font-family="'Liberation Sans', sans-serif" font-weight="bold" font-size="10.2" stroke="#000" stroke-width="0.35">0.5</text>
<line x1="673.00" y1="72.47" x2="679.00" y2="72.47" stroke="#000" stroke-width="1.8"/>
<text x="672.20" y="76.75" text-anchor="end" font-family="'Liberation Sans', sans-serif" font-weight="bold" font-size="10.2" stroke="#000" stroke-width="0.35">1.0</text>
<line x1="673.00" y1="28.90" x2="679.00" y2="28.90" stroke="#000" stroke-width="1.8"/>
<text x="672.20" y="33.18" text-anchor="end" font-family="'Liberation Sans', sans-serif" font-weight="bold" font-size="10.2" stroke="#000" stroke-width="0.35">1.5</text>
<line x1="696.70" y1="159.60" x2="696.70" y2="165.10" stroke="#000" stroke-width="1.8"/>
<line x1="722.20" y1="159.60" x2="722.20" y2="165.10" stroke="#000" stroke-width="1.8"/>
<line x1="748.30" y1="159.60" x2="748.30" y2="165.10" stroke="#000" stroke-width="1.8"/>
<line x1="695.00" y1="39.00" x2="750.00" y2="39.00" stroke="#000" stroke-width="1.8"/>
<line x1="695.00" y1="33.00" x2="695.00" y2="45.50" stroke="#000" stroke-width="1.8"/>
<line x1="750.00" y1="33.00" x2="750.00" y2="45.50" stroke="#000" stroke-width="1.8"/>
<path d="M721.65,26.95L721.65,32.25M719.01,28.28L724.29,30.93M719.01,30.93L724.29,28.28" stroke="#000" stroke-width="2.1" stroke-linecap="round" fill="none"/>
<text transform="translate(652.00,93.70) rotate(-90)" text-anchor="middle" font-family="'Liberation Serif', serif" font-weight="bold" font-size="10.10" textLength="67.00" lengthAdjust="spacingAndGlyphs" stroke="#000" stroke-width="0.6">α-SMA/β-actin</text>
<text transform="translate(699.40,174.60) scale(1.04,1) rotate(-45)" text-anchor="end" font-family="'Liberation Serif', serif" font-weight="bold" font-size="9.6" stroke="#000" stroke-width="0.5">Control</text>
<text transform="translate(724.90,174.60) scale(1.04,1) rotate(-45)" text-anchor="end" font-family="'Liberation Serif', serif" font-weight="bold" font-size="9.6" stroke="#000" stroke-width="0.5">sST2(12h)</text>
<text transform="translate(751.00,174.60) scale(1.04,1) rotate(-45)" text-anchor="end" font-family="'Liberation Serif', serif" font-weight="bold" font-size="9.6" stroke="#000" stroke-width="0.5">sST2(24h)</text>
<line x1="126.65" y1="369.65" x2="126.65" y2="367.20" stroke="#000" stroke-width="1.6"/>
<line x1="119.98" y1="367.20" x2="133.33" y2="367.20" stroke="#000" stroke-width="1.6"/>
<rect x="113.30" y="369.65" width="26.70" height="34.95" fill="#000"/>
<line x1="167.20" y1="309.54" x2="167.20" y2="296.25" stroke="#000" stroke-width="1.6"/>
<line x1="160.60" y1="296.25" x2="173.80" y2="296.25" stroke="#000" stroke-width="1.6"/>
<rect x="155.20" y="310.74" width="24.00" height="93.86" fill="#444444" stroke="#000" stroke-width="2.4"/>
<rect x="156.80" y="312.34" width="20.80" height="89.96" fill="none" stroke="#5c5c5c" stroke-width="0.8"/>
<line x1="100.30" y1="263.90" x2="100.30" y2="404.60" stroke="#000" stroke-width="1.8"/>
<line x1="94.30" y1="404.60" x2="194.40" y2="404.60" stroke="#000" stroke-width="1.8"/>
<line x1="94.30" y1="404.60" x2="100.30" y2="404.60" stroke="#000" stroke-width="1.8"/>
<text x="92.70" y="408.80" text-anchor="end" font-family="'Liberation Sans', sans-serif" font-weight="bold" font-size="10" stroke="#000" stroke-width="0.35">0</text>
<line x1="94.30" y1="369.65" x2="100.30" y2="369.65" stroke="#000" stroke-width="1.8"/>
<text x="92.70" y="373.85" text-anchor="end" font-family="'Liberation Sans', sans-serif" font-weight="bold" font-size="10" stroke="#000" stroke-width="0.35">1</text>
<line x1="94.30" y1="334.70" x2="100.30" y2="334.70" stroke="#000" stroke-width="1.8"/>
<text x="92.70" y="338.90" text-anchor="end" font-family="'Liberation Sans', sans-serif" font-weight="bold" font-size="10" stroke="#000" stroke-width="0.35">2</text>
<line x1="94.30" y1="299.75" x2="100.30" y2="299.75" stroke="#000" stroke-width="1.8"/>
<text x="92.70" y="303.95" text-anchor="end" font-family="'Liberation Sans', sans-serif" font-weight="bold" font-size="10" stroke="#000" stroke-width="0.35">3</text>
<line x1="94.30" y1="264.80" x2="100.30" y2="264.80" stroke="#000" stroke-width="1.8"/>
<text x="92.70" y="269.00" text-anchor="end" font-family="'Liberation Sans', sans-serif" font-weight="bold" font-size="10" stroke="#000" stroke-width="0.35">4</text>
<line x1="126.65" y1="404.60" x2="126.65" y2="410.10" stroke="#000" stroke-width="1.8"/>
<line x1="167.20" y1="404.60" x2="167.20" y2="410.10" stroke="#000" stroke-width="1.8"/>
<line x1="121.00" y1="286.00" x2="168.00" y2="286.00" stroke="#000" stroke-width="1.8"/>
<line x1="121.00" y1="280.00" x2="121.00" y2="292.50" stroke="#000" stroke-width="1.8"/>
<line x1="168.00" y1="280.00" x2="168.00" y2="292.50" stroke="#000" stroke-width="1.8"/>
<path d="M135.20,273.25L135.20,278.55M132.56,274.57L137.84,277.22M132.56,277.22L137.84,274.57" stroke="#000" stroke-width="2.1" stroke-linecap="round" fill="none"/><path d="M143.35,273.25L143.35,278.55M140.71,274.57L145.99,277.22M140.71,277.22L145.99,274.57" stroke="#000" stroke-width="2.1" stroke-linecap="round" fill="none"/><path d="M151.50,273.25L151.50,278.55M148.86,274.57L154.14,277.22M148.86,277.22L154.14,274.57" stroke="#000" stroke-width="2.1" stroke-linecap="round" fill="none"/>
<text transform="translate(79.70,334.50) rotate(-90)" text-anchor="middle" font-family="'Liberation Serif', serif" font-weight="bold" font-size="12.70" textLength="150.40" lengthAdjust="spacingAndGlyphs" stroke="#000" stroke-width="0.6">Collagen- I  mRNA expression</text>
<text x="109.20" y="421.90" font-family="'Liberation Serif', serif" font-weight="bold" font-size="10.3" textLength="34.50" lengthAdjust="spacingAndGlyphs" stroke="#000" stroke-width="0.35">Control</text>
<text x="155.20" y="421.90" font-family="'Liberation Serif', serif" font-weight="bold" font-size="10.3" textLength="22.00" lengthAdjust="spacingAndGlyphs" stroke="#000" stroke-width="0.35">sST2</text>
<line x1="303.50" y1="369.75" x2="303.50" y2="365.15" stroke="#000" stroke-width="1.6"/>
<line x1="296.85" y1="365.15" x2="310.15" y2="365.15" stroke="#000" stroke-width="1.6"/>
<rect x="290.20" y="369.75" width="26.60" height="35.35" fill="#000"/>
<line x1="344.00" y1="282.44" x2="344.00" y2="278.55" stroke="#000" stroke-width="1.6"/>
<line x1="337.40" y1="278.55" x2="350.60" y2="278.55" stroke="#000" stroke-width="1.6"/>
<rect x="332.00" y="283.64" width="24.00" height="121.46" fill="#444444" stroke="#000" stroke-width="2.4"/>
<rect x="333.60" y="285.24" width="20.80" height="117.56" fill="none" stroke="#5c5c5c" stroke-width="0.8"/>
<line x1="277.10" y1="262.80" x2="277.10" y2="405.10" stroke="#000" stroke-width="1.8"/>
<line x1="271.10" y1="405.10" x2="371.80" y2="405.10" stroke="#000" stroke-width="1.8"/>
<line x1="271.10" y1="405.10" x2="277.10" y2="405.10" stroke="#000" stroke-width="1.8"/>
<text x="269.50" y="409.38" text-anchor="end" font-family="'Liberation Sans', sans-serif" font-weight="bold" font-size="10.2" stroke="#000" stroke-width="0.35">0</text>
<line x1="271.10" y1="369.75" x2="277.10" y2="369.75" stroke="#000" stroke-width="1.8"/>
<text x="269.50" y="374.03" text-anchor="end" font-family="'Liberation Sans', sans-serif" font-weight="bold" font-size="10.2" stroke="#000" stroke-width="0.35">1</text>
<line x1="271.10" y1="334.40" x2="277.10" y2="334.40" stroke="#000" stroke-width="1.8"/>
<text x="269.50" y="338.68" text-anchor="end" font-family="'Liberation Sans', sans-serif" font-weight="bold" font-size="10.2" stroke="#000" stroke-width="0.35">2</text>
<line x1="271.10" y1="299.05" x2="277.10" y2="299.05" stroke="#000" stroke-width="1.8"/>
<text x="269.50" y="303.33" text-anchor="end" font-family="'Liberation Sans', sans-serif" font-weight="bold" font-size="10.2" stroke="#000" stroke-width="0.35">3</text>
<line x1="271.10" y1="263.70" x2="277.10" y2="263.70" stroke="#000" stroke-width="1.8"/>
<text x="269.50" y="267.98" text-anchor="end" font-family="'Liberation Sans', sans-serif" font-weight="bold" font-size="10.2" stroke="#000" stroke-width="0.35">4</text>
<line x1="303.50" y1="405.10" x2="303.50" y2="410.60" stroke="#000" stroke-width="1.8"/>
<line x1="344.00" y1="405.10" x2="344.00" y2="410.60" stroke="#000" stroke-width="1.8"/>
<line x1="301.00" y1="262.00" x2="343.00" y2="262.00" stroke="#000" stroke-width="1.8"/>
<line x1="301.00" y1="256.00" x2="301.00" y2="268.50" stroke="#000" stroke-width="1.8"/>
<line x1="343.00" y1="256.00" x2="343.00" y2="268.50" stroke="#000" stroke-width="1.8"/>
<path d="M313.10,249.45L313.10,254.75M310.46,250.78L315.74,253.42M310.46,253.42L315.74,250.78" stroke="#000" stroke-width="2.1" stroke-linecap="round" fill="none"/><path d="M321.40,249.45L321.40,254.75M318.76,250.78L324.04,253.42M318.76,253.42L324.04,250.78" stroke="#000" stroke-width="2.1" stroke-linecap="round" fill="none"/><path d="M329.70,249.45L329.70,254.75M327.06,250.78L332.34,253.42M327.06,253.42L332.34,250.78" stroke="#000" stroke-width="2.1" stroke-linecap="round" fill="none"/>
<text transform="translate(256.60,334.45) rotate(-90)" text-anchor="middle" font-family="'Liberation Serif', serif" font-weight="bold" font-size="12.40" textLength="151.30" lengthAdjust="spacingAndGlyphs" stroke="#000" stroke-width="0.6">Collagen-III  mRNA expression</text>
<text x="285.80" y="423.30" font-family="'Liberation Serif', serif" font-weight="bold" font-size="10.4" textLength="34.50" lengthAdjust="spacingAndGlyphs" stroke="#000" stroke-width="0.35">Control</text>
<text x="332.70" y="423.30" font-family="'Liberation Serif', serif" font-weight="bold" font-size="10.4" textLength="22.50" lengthAdjust="spacingAndGlyphs" stroke="#000" stroke-width="0.35">sST2</text>
<line x1="470.50" y1="333.35" x2="470.50" y2="328.36" stroke="#000" stroke-width="1.6"/>
<line x1="463.65" y1="328.36" x2="477.35" y2="328.36" stroke="#000" stroke-width="1.6"/>
<rect x="456.80" y="333.35" width="27.40" height="71.25" fill="#000"/>
<line x1="511.85" y1="282.05" x2="511.85" y2="272.79" stroke="#000" stroke-width="1.6"/>
<line x1="505.23" y1="272.79" x2="518.48" y2="272.79" stroke="#000" stroke-width="1.6"/>
<rect x="499.80" y="283.25" width="24.10" height="121.35" fill="#444444" stroke="#000" stroke-width="2.4"/>
<rect x="501.40" y="284.85" width="20.90" height="117.45" fill="none" stroke="#5c5c5c" stroke-width="0.8"/>
<line x1="443.50" y1="261.20" x2="443.50" y2="404.60" stroke="#000" stroke-width="1.8"/>
<line x1="437.50" y1="404.60" x2="540.00" y2="404.60" stroke="#000" stroke-width="1.8"/>
<line x1="437.50" y1="404.60" x2="443.50" y2="404.60" stroke="#000" stroke-width="1.8"/>
<text x="436.40" y="409.26" text-anchor="end" font-family="'Liberation Sans', sans-serif" font-weight="bold" font-size="11.1" stroke="#000" stroke-width="0.35">0.0</text>
<line x1="437.50" y1="368.98" x2="443.50" y2="368.98" stroke="#000" stroke-width="1.8"/>
<text x="436.40" y="373.64" text-anchor="end" font-family="'Liberation Sans', sans-serif" font-weight="bold" font-size="11.1" stroke="#000" stroke-width="0.35">0.5</text>
<line x1="437.50" y1="333.35" x2="443.50" y2="333.35" stroke="#000" stroke-width="1.8"/>
<text x="436.40" y="338.01" text-anchor="end" font-family="'Liberation Sans', sans-serif" font-weight="bold" font-size="11.1" stroke="#000" stroke-width="0.35">1.0</text>
<line x1="437.50" y1="297.73" x2="443.50" y2="297.73" stroke="#000" stroke-width="1.8"/>
<text x="436.40" y="302.39" text-anchor="end" font-family="'Liberation Sans', sans-serif" font-weight="bold" font-size="11.1" stroke="#000" stroke-width="0.35">1.5</text>
<line x1="437.50" y1="262.10" x2="443.50" y2="262.10" stroke="#000" stroke-width="1.8"/>
<text x="436.40" y="266.76" text-anchor="end" font-family="'Liberation Sans', sans-serif" font-weight="bold" font-size="11.1" stroke="#000" stroke-width="0.35">2.0</text>
<line x1="470.50" y1="404.60" x2="470.50" y2="410.10" stroke="#000" stroke-width="1.8"/>
<line x1="511.85" y1="404.60" x2="511.85" y2="410.10" stroke="#000" stroke-width="1.8"/>
<line x1="467.00" y1="263.00" x2="513.00" y2="263.00" stroke="#000" stroke-width="1.8"/>
<line x1="467.00" y1="257.00" x2="467.00" y2="269.50" stroke="#000" stroke-width="1.8"/>
<line x1="513.00" y1="257.00" x2="513.00" y2="269.50" stroke="#000" stroke-width="1.8"/>
<path d="M480.30,250.45L480.30,255.75M477.66,251.78L482.94,254.42M477.66,254.42L482.94,251.78" stroke="#000" stroke-width="2.1" stroke-linecap="round" fill="none"/><path d="M489.00,250.45L489.00,255.75M486.36,251.78L491.64,254.42M486.36,254.42L491.64,251.78" stroke="#000" stroke-width="2.1" stroke-linecap="round" fill="none"/><path d="M497.70,250.45L497.70,255.75M495.06,251.78L500.34,254.42M495.06,254.42L500.34,251.78" stroke="#000" stroke-width="2.1" stroke-linecap="round" fill="none"/>
<text transform="translate(414.00,333.45) rotate(-90)" text-anchor="middle" font-family="'Liberation Serif', serif" font-weight="bold" font-size="11.50" textLength="129.50" lengthAdjust="spacingAndGlyphs" stroke="#000" stroke-width="0.6">α-SMA mRNA expression</text>
<text x="453.40" y="422.70" font-family="'Liberation Serif', serif" font-weight="bold" font-size="10.2" textLength="33.40" lengthAdjust="spacingAndGlyphs" stroke="#000" stroke-width="0.35">Control</text>
<text x="500.30" y="422.70" font-family="'Liberation Serif', serif" font-weight="bold" font-size="10.2" textLength="21.40" lengthAdjust="spacingAndGlyphs" stroke="#000" stroke-width="0.35">sST2</text>
<line x1="704.25" y1="295.63" x2="704.25" y2="292.63" stroke="#000" stroke-width="1.6"/>
<line x1="697.23" y1="292.63" x2="711.27" y2="292.63" stroke="#000" stroke-width="1.6"/>
<rect x="690.20" y="295.63" width="28.10" height="109.27" fill="#000"/>
<line x1="746.25" y1="286.62" x2="746.25" y2="285.42" stroke="#000" stroke-width="1.6"/>
<line x1="739.48" y1="285.42" x2="753.02" y2="285.42" stroke="#000" stroke-width="1.6"/>
<rect x="733.90" y="287.82" width="24.70" height="117.08" fill="#444444" stroke="#000" stroke-width="2.4"/>
<rect x="735.50" y="289.42" width="21.50" height="113.18" fill="none" stroke="#5c5c5c" stroke-width="0.8"/>
<line x1="676.10" y1="253.90" x2="676.10" y2="404.90" stroke="#000" stroke-width="1.8"/>
<line x1="670.10" y1="404.90" x2="771.40" y2="404.90" stroke="#000" stroke-width="1.8"/>
<line x1="670.10" y1="404.90" x2="676.10" y2="404.90" stroke="#000" stroke-width="1.8"/>
<text x="668.20" y="409.73" text-anchor="end" font-family="'Liberation Sans', sans-serif" font-weight="bold" font-size="11.5" stroke="#000" stroke-width="0.35">0.0</text>
<line x1="670.10" y1="374.88" x2="676.10" y2="374.88" stroke="#000" stroke-width="1.8"/>
<text x="668.20" y="379.71" text-anchor="end" font-family="'Liberation Sans', sans-serif" font-weight="bold" font-size="11.5" stroke="#000" stroke-width="0.35">0.5</text>
<line x1="670.10" y1="344.86" x2="676.10" y2="344.86" stroke="#000" stroke-width="1.8"/>
<text x="668.20" y="349.69" text-anchor="end" font-family="'Liberation Sans', sans-serif" font-weight="bold" font-size="11.5" stroke="#000" stroke-width="0.35">1.0</text>
<line x1="670.10" y1="314.84" x2="676.10" y2="314.84" stroke="#000" stroke-width="1.8"/>
<text x="668.20" y="319.67" text-anchor="end" font-family="'Liberation Sans', sans-serif" font-weight="bold" font-size="11.5" stroke="#000" stroke-width="0.35">1.5</text>
<line x1="670.10" y1="284.82" x2="676.10" y2="284.82" stroke="#000" stroke-width="1.8"/>
<text x="668.20" y="289.65" text-anchor="end" font-family="'Liberation Sans', sans-serif" font-weight="bold" font-size="11.5" stroke="#000" stroke-width="0.35">2.0</text>
<line x1="670.10" y1="254.80" x2="676.10" y2="254.80" stroke="#000" stroke-width="1.8"/>
<text x="668.20" y="259.63" text-anchor="end" font-family="'Liberation Sans', sans-serif" font-weight="bold" font-size="11.5" stroke="#000" stroke-width="0.35">2.5</text>
<line x1="704.25" y1="404.90" x2="704.25" y2="410.40" stroke="#000" stroke-width="1.8"/>
<line x1="746.25" y1="404.90" x2="746.25" y2="410.40" stroke="#000" stroke-width="1.8"/>
<line x1="702.00" y1="275.00" x2="745.00" y2="275.00" stroke="#000" stroke-width="1.8"/>
<line x1="702.00" y1="269.00" x2="702.00" y2="281.50" stroke="#000" stroke-width="1.8"/>
<line x1="745.00" y1="269.00" x2="745.00" y2="281.50" stroke="#000" stroke-width="1.8"/>
<path d="M717.85,262.25L717.85,267.55M715.21,263.57L720.49,266.22M715.21,266.22L720.49,263.57" stroke="#000" stroke-width="2.1" stroke-linecap="round" fill="none"/><path d="M727.25,262.25L727.25,267.55M724.61,263.57L729.89,266.22M724.61,266.22L729.89,263.57" stroke="#000" stroke-width="2.1" stroke-linecap="round" fill="none"/>
<text transform="translate(645.30,330.05) rotate(-90)" text-anchor="middle" font-family="'Liberation Serif', serif" font-weight="bold" font-size="12.40" textLength="97.70" lengthAdjust="spacingAndGlyphs" stroke="#000" stroke-width="0.6">OD Value (450nm)</text>
<text x="685.60" y="423.40" font-family="'Liberation Serif', serif" font-weight="bold" font-size="11.4" textLength="36.70" lengthAdjust="spacingAndGlyphs" stroke="#000" stroke-width="0.35">Control</text>
<text x="734.70" y="423.40" font-family="'Liberation Serif', serif" font-weight="bold" font-size="11.4" textLength="23.30" lengthAdjust="spacingAndGlyphs" stroke="#000" stroke-width="0.35">sST2</text>
<line x1="375.65" y1="539.42" x2="375.65" y2="532.25" stroke="#000" stroke-width="1.6"/>
<line x1="371.27" y1="532.25" x2="380.02" y2="532.25" stroke="#000" stroke-width="1.6"/>
<rect x="366.90" y="539.42" width="17.50" height="113.88" fill="#000"/>
<line x1="402.30" y1="585.15" x2="402.30" y2="578.88" stroke="#000" stroke-width="1.6"/>
<line x1="397.80" y1="578.88" x2="406.80" y2="578.88" stroke="#000" stroke-width="1.6"/>
<rect x="394.50" y="586.35" width="15.60" height="66.95" fill="#444444" stroke="#000" stroke-width="2.4"/>
<rect x="396.10" y="587.95" width="12.40" height="63.05" fill="none" stroke="#5c5c5c" stroke-width="0.8"/>
<line x1="429.50" y1="580.67" x2="429.50" y2="561.84" stroke="#000" stroke-width="1.6"/>
<line x1="425.00" y1="561.84" x2="434.00" y2="561.84" stroke="#000" stroke-width="1.6"/>
<rect x="421.70" y="581.87" width="15.60" height="71.43" fill="#272727" stroke="#000" stroke-width="2.4"/>
<rect x="423.30" y="583.47" width="12.40" height="67.53" fill="none" stroke="#5c5c5c" stroke-width="0.8"/>
<line x1="358.00" y1="517.90" x2="358.00" y2="653.30" stroke="#000" stroke-width="1.8"/>
<line x1="352.00" y1="653.30" x2="448.00" y2="653.30" stroke="#000" stroke-width="1.8"/>
<line x1="352.00" y1="653.30" x2="358.00" y2="653.30" stroke="#000" stroke-width="1.8"/>
<text x="351.10" y="657.71" text-anchor="end" font-family="'Liberation Sans', sans-serif" font-weight="bold" font-size="10.5" stroke="#000" stroke-width="0.35">0.0</text>
<line x1="352.00" y1="608.47" x2="358.00" y2="608.47" stroke="#000" stroke-width="1.8"/>
<text x="351.10" y="612.88" text-anchor="end" font-family="'Liberation Sans', sans-serif" font-weight="bold" font-size="10.5" stroke="#000" stroke-width="0.35">0.5</text>
<line x1="352.00" y1="563.63" x2="358.00" y2="563.63" stroke="#000" stroke-width="1.8"/>
<text x="351.10" y="568.04" text-anchor="end" font-family="'Liberation Sans', sans-serif" font-weight="bold" font-size="10.5" stroke="#000" stroke-width="0.35">1.0</text>
<line x1="352.00" y1="518.80" x2="358.00" y2="518.80" stroke="#000" stroke-width="1.8"/>
<text x="351.10" y="523.21" text-anchor="end" font-family="'Liberation Sans', sans-serif" font-weight="bold" font-size="10.5" stroke="#000" stroke-width="0.35">1.5</text>
<line x1="375.65" y1="653.30" x2="375.65" y2="658.80" stroke="#000" stroke-width="1.8"/>
<line x1="402.30" y1="653.30" x2="402.30" y2="658.80" stroke="#000" stroke-width="1.8"/>
<line x1="429.50" y1="653.30" x2="429.50" y2="658.80" stroke="#000" stroke-width="1.8"/>
<line x1="374.00" y1="501.00" x2="430.00" y2="501.00" stroke="#000" stroke-width="1.8"/>
<line x1="374.00" y1="495.00" x2="374.00" y2="507.50" stroke="#000" stroke-width="1.8"/>
<line x1="430.00" y1="495.00" x2="430.00" y2="507.50" stroke="#000" stroke-width="1.8"/>
<path d="M401.25,488.55L401.25,493.85M398.61,489.88L403.89,492.52M398.61,492.52L403.89,489.88" stroke="#000" stroke-width="2.1" stroke-linecap="round" fill="none"/>
<line x1="374.00" y1="523.00" x2="400.00" y2="523.00" stroke="#000" stroke-width="1.8"/>
<line x1="374.00" y1="517.00" x2="374.00" y2="529.50" stroke="#000" stroke-width="1.8"/>
<line x1="400.00" y1="517.00" x2="400.00" y2="529.50" stroke="#000" stroke-width="1.8"/>
<path d="M382.45,510.55L382.45,515.85M379.81,511.88L385.09,514.53M379.81,514.53L385.09,511.88" stroke="#000" stroke-width="2.1" stroke-linecap="round" fill="none"/><path d="M389.85,510.55L389.85,515.85M387.21,511.88L392.49,514.53M387.21,514.53L392.49,511.88" stroke="#000" stroke-width="2.1" stroke-linecap="round" fill="none"/>
<text transform="translate(330.00,585.90) rotate(-90)" text-anchor="middle" font-family="'Liberation Serif', serif" font-weight="bold" font-size="10.40" textLength="52.60" lengthAdjust="spacingAndGlyphs" stroke="#000" stroke-width="0.6">p16/β-actin</text>
<text transform="translate(379.15,668.30) scale(1.03,1) rotate(-45)" text-anchor="end" font-family="'Liberation Serif', serif" font-weight="bold" font-size="10.2" stroke="#000" stroke-width="0.5">Control</text>
<text transform="translate(405.80,668.30) scale(1.03,1) rotate(-45)" text-anchor="end" font-family="'Liberation Serif', serif" font-weight="bold" font-size="10.2" stroke="#000" stroke-width="0.5">sST2(12h)</text>
<text transform="translate(433.00,668.30) scale(1.03,1) rotate(-45)" text-anchor="end" font-family="'Liberation Serif', serif" font-weight="bold" font-size="10.2" stroke="#000" stroke-width="0.5">sST2(24h)</text>
<line x1="524.25" y1="557.25" x2="524.25" y2="541.57" stroke="#000" stroke-width="1.6"/>
<line x1="519.27" y1="541.57" x2="529.23" y2="541.57" stroke="#000" stroke-width="1.6"/>
<rect x="514.30" y="557.25" width="19.90" height="95.55" fill="#000"/>
<line x1="554.30" y1="589.35" x2="554.30" y2="581.14" stroke="#000" stroke-width="1.6"/>
<line x1="549.30" y1="581.14" x2="559.30" y2="581.14" stroke="#000" stroke-width="1.6"/>
<rect x="545.50" y="590.55" width="17.60" height="62.25" fill="#444444" stroke="#000" stroke-width="2.4"/>
<rect x="547.10" y="592.15" width="14.40" height="58.35" fill="none" stroke="#5c5c5c" stroke-width="0.8"/>
<line x1="584.35" y1="594.57" x2="584.35" y2="580.39" stroke="#000" stroke-width="1.6"/>
<line x1="579.37" y1="580.39" x2="589.32" y2="580.39" stroke="#000" stroke-width="1.6"/>
<rect x="575.60" y="595.77" width="17.50" height="57.03" fill="#272727" stroke="#000" stroke-width="2.4"/>
<rect x="577.20" y="597.37" width="14.30" height="53.13" fill="none" stroke="#5c5c5c" stroke-width="0.8"/>
<line x1="504.40" y1="502.60" x2="504.40" y2="652.80" stroke="#000" stroke-width="1.8"/>
<line x1="498.40" y1="652.80" x2="605.50" y2="652.80" stroke="#000" stroke-width="1.8"/>
<line x1="498.40" y1="652.80" x2="504.40" y2="652.80" stroke="#000" stroke-width="1.8"/>
<text x="496.30" y="657.59" text-anchor="end" font-family="'Liberation Sans', sans-serif" font-weight="bold" font-size="11.4" stroke="#000" stroke-width="0.35">0.0</text>
<line x1="498.40" y1="615.47" x2="504.40" y2="615.47" stroke="#000" stroke-width="1.8"/>
<text x="496.30" y="620.26" text-anchor="end" font-family="'Liberation Sans', sans-serif" font-weight="bold" font-size="11.4" stroke="#000" stroke-width="0.35">0.5</text>
<line x1="498.40" y1="578.15" x2="504.40" y2="578.15" stroke="#000" stroke-width="1.8"/>
<text x="496.30" y="582.94" text-anchor="end" font-family="'Liberation Sans', sans-serif" font-weight="bold" font-size="11.4" stroke="#000" stroke-width="0.35">1.0</text>
<line x1="498.40" y1="540.83" x2="504.40" y2="540.83" stroke="#000" stroke-width="1.8"/>
<text x="496.30" y="545.61" text-anchor="end" font-family="'Liberation Sans', sans-serif" font-weight="bold" font-size="11.4" stroke="#000" stroke-width="0.35">1.5</text>
<line x1="498.40" y1="503.50" x2="504.40" y2="503.50" stroke="#000" stroke-width="1.8"/>
<text x="496.30" y="508.29" text-anchor="end" font-family="'Liberation Sans', sans-serif" font-weight="bold" font-size="11.4" stroke="#000" stroke-width="0.35">2.0</text>
<line x1="524.25" y1="652.80" x2="524.25" y2="658.30" stroke="#000" stroke-width="1.8"/>
<line x1="554.30" y1="652.80" x2="554.30" y2="658.30" stroke="#000" stroke-width="1.8"/>
<line x1="584.35" y1="652.80" x2="584.35" y2="658.30" stroke="#000" stroke-width="1.8"/>
<line x1="522.00" y1="506.00" x2="584.00" y2="506.00" stroke="#000" stroke-width="1.8"/>
<line x1="522.00" y1="500.00" x2="522.00" y2="512.50" stroke="#000" stroke-width="1.8"/>
<line x1="584.00" y1="500.00" x2="584.00" y2="512.50" stroke="#000" stroke-width="1.8"/>
<path d="M552.45,492.45L552.45,497.75M549.81,493.78L555.09,496.43M549.81,496.43L555.09,493.78" stroke="#000" stroke-width="2.1" stroke-linecap="round" fill="none"/>
<line x1="525.00" y1="528.00" x2="554.00" y2="528.00" stroke="#000" stroke-width="1.8"/>
<line x1="525.00" y1="522.00" x2="525.00" y2="534.50" stroke="#000" stroke-width="1.8"/>
<line x1="554.00" y1="522.00" x2="554.00" y2="534.50" stroke="#000" stroke-width="1.8"/>
<path d="M538.75,514.85L538.75,520.15M536.11,516.17L541.39,518.83M536.11,518.83L541.39,516.17" stroke="#000" stroke-width="2.1" stroke-linecap="round" fill="none"/>
<text transform="translate(473.10,577.95) rotate(-90)" text-anchor="middle" font-family="'Liberation Serif', serif" font-weight="bold" font-size="11.70" textLength="58.70" lengthAdjust="spacingAndGlyphs" stroke="#000" stroke-width="0.6">p21/β-actin</text>
<text transform="translate(527.75,668.80) scale(1.04,1) rotate(-45)" text-anchor="end" font-family="'Liberation Serif', serif" font-weight="bold" font-size="11.2" stroke="#000" stroke-width="0.5">Control</text>
<text transform="translate(557.80,668.80) scale(1.04,1) rotate(-45)" text-anchor="end" font-family="'Liberation Serif', serif" font-weight="bold" font-size="11.2" stroke="#000" stroke-width="0.5">sST2(12h)</text>
<text transform="translate(587.85,668.80) scale(1.04,1) rotate(-45)" text-anchor="end" font-family="'Liberation Serif', serif" font-weight="bold" font-size="11.2" stroke="#000" stroke-width="0.5">sST2(24h)</text>
<line x1="689.10" y1="550.19" x2="689.10" y2="542.13" stroke="#000" stroke-width="1.6"/>
<line x1="684.15" y1="542.13" x2="694.05" y2="542.13" stroke="#000" stroke-width="1.6"/>
<rect x="679.20" y="550.19" width="19.80" height="101.81" fill="#000"/>
<line x1="719.20" y1="581.44" x2="719.20" y2="546.16" stroke="#000" stroke-width="1.6"/>
<line x1="714.40" y1="546.16" x2="724.00" y2="546.16" stroke="#000" stroke-width="1.6"/>
<rect x="710.80" y="582.64" width="16.80" height="69.36" fill="#444444" stroke="#000" stroke-width="2.4"/>
<rect x="712.40" y="584.24" width="13.60" height="65.46" fill="none" stroke="#5c5c5c" stroke-width="0.8"/>
<line x1="749.95" y1="620.75" x2="749.95" y2="613.70" stroke="#000" stroke-width="1.6"/>
<line x1="745.18" y1="613.70" x2="754.73" y2="613.70" stroke="#000" stroke-width="1.6"/>
<rect x="741.60" y="621.95" width="16.70" height="30.05" fill="#272727" stroke="#000" stroke-width="2.4"/>
<rect x="743.20" y="623.55" width="13.50" height="26.15" fill="none" stroke="#5c5c5c" stroke-width="0.8"/>
<line x1="669.00" y1="499.90" x2="669.00" y2="652.00" stroke="#000" stroke-width="1.8"/>
<line x1="663.00" y1="652.00" x2="770.40" y2="652.00" stroke="#000" stroke-width="1.8"/>
<line x1="663.00" y1="652.00" x2="669.00" y2="652.00" stroke="#000" stroke-width="1.8"/>
<text x="661.30" y="656.75" text-anchor="end" font-family="'Liberation Sans', sans-serif" font-weight="bold" font-size="11.3" stroke="#000" stroke-width="0.35">0.0</text>
<line x1="663.00" y1="601.60" x2="669.00" y2="601.60" stroke="#000" stroke-width="1.8"/>
<text x="661.30" y="606.35" text-anchor="end" font-family="'Liberation Sans', sans-serif" font-weight="bold" font-size="11.3" stroke="#000" stroke-width="0.35">0.5</text>
<line x1="663.00" y1="551.20" x2="669.00" y2="551.20" stroke="#000" stroke-width="1.8"/>
<text x="661.30" y="555.95" text-anchor="end" font-family="'Liberation Sans', sans-serif" font-weight="bold" font-size="11.3" stroke="#000" stroke-width="0.35">1.0</text>
<line x1="663.00" y1="500.80" x2="669.00" y2="500.80" stroke="#000" stroke-width="1.8"/>
<text x="661.30" y="505.55" text-anchor="end" font-family="'Liberation Sans', sans-serif" font-weight="bold" font-size="11.3" stroke="#000" stroke-width="0.35">1.5</text>
<line x1="689.10" y1="652.00" x2="689.10" y2="657.50" stroke="#000" stroke-width="1.8"/>
<line x1="719.20" y1="652.00" x2="719.20" y2="657.50" stroke="#000" stroke-width="1.8"/>
<line x1="749.95" y1="652.00" x2="749.95" y2="657.50" stroke="#000" stroke-width="1.8"/>
<line x1="689.00" y1="524.00" x2="749.00" y2="524.00" stroke="#000" stroke-width="1.8"/>
<line x1="689.00" y1="518.00" x2="689.00" y2="530.50" stroke="#000" stroke-width="1.8"/>
<line x1="749.00" y1="518.00" x2="749.00" y2="530.50" stroke="#000" stroke-width="1.8"/>
<path d="M718.50,511.45L718.50,516.75M715.86,512.77L721.14,515.43M715.86,515.43L721.14,512.77" stroke="#000" stroke-width="2.1" stroke-linecap="round" fill="none"/>
<text transform="translate(637.40,576.25) rotate(-90)" text-anchor="middle" font-family="'Liberation Serif', serif" font-weight="bold" font-size="11.90" textLength="60.50" lengthAdjust="spacingAndGlyphs" stroke="#000" stroke-width="0.6">p53/β-actin</text>
<text transform="translate(692.60,669.50) scale(1.03,1) rotate(-45)" text-anchor="end" font-family="'Liberation Serif', serif" font-weight="bold" font-size="11.3" stroke="#000" stroke-width="0.5">Control</text>
<text transform="translate(722.70,669.50) scale(1.03,1) rotate(-45)" text-anchor="end" font-family="'Liberation Serif', serif" font-weight="bold" font-size="11.3" stroke="#000" stroke-width="0.5">sST2(12h)</text>
<text transform="translate(753.45,669.50) scale(1.03,1) rotate(-45)" text-anchor="end" font-family="'Liberation Serif', serif" font-weight="bold" font-size="11.3" stroke="#000" stroke-width="0.5">sST2(24h)</text>
<line x1="166.05" y1="834.93" x2="166.05" y2="823.95" stroke="#000" stroke-width="1.6"/>
<line x1="158.98" y1="823.95" x2="173.12" y2="823.95" stroke="#000" stroke-width="1.6"/>
<rect x="151.90" y="834.93" width="28.30" height="99.87" fill="#000"/>
<line x1="209.20" y1="876.88" x2="209.20" y2="869.89" stroke="#000" stroke-width="1.6"/>
<line x1="202.20" y1="869.89" x2="216.20" y2="869.89" stroke="#000" stroke-width="1.6"/>
<rect x="196.40" y="878.08" width="25.60" height="56.72" fill="#444444" stroke="#000" stroke-width="2.4"/>
<rect x="198.00" y="879.68" width="22.40" height="52.82" fill="none" stroke="#5c5c5c" stroke-width="0.8"/>
<line x1="137.90" y1="784.10" x2="137.90" y2="934.80" stroke="#000" stroke-width="1.8"/>
<line x1="131.90" y1="934.80" x2="238.30" y2="934.80" stroke="#000" stroke-width="1.8"/>
<line x1="131.90" y1="934.80" x2="137.90" y2="934.80" stroke="#000" stroke-width="1.8"/>
<text x="130.50" y="939.59" text-anchor="end" font-family="'Liberation Sans', sans-serif" font-weight="bold" font-size="11.4" stroke="#000" stroke-width="0.35">0.0</text>
<line x1="131.90" y1="884.87" x2="137.90" y2="884.87" stroke="#000" stroke-width="1.8"/>
<text x="130.50" y="889.65" text-anchor="end" font-family="'Liberation Sans', sans-serif" font-weight="bold" font-size="11.4" stroke="#000" stroke-width="0.35">0.5</text>
<line x1="131.90" y1="834.93" x2="137.90" y2="834.93" stroke="#000" stroke-width="1.8"/>
<text x="130.50" y="839.72" text-anchor="end" font-family="'Liberation Sans', sans-serif" font-weight="bold" font-size="11.4" stroke="#000" stroke-width="0.35">1.0</text>
<line x1="131.90" y1="785.00" x2="137.90" y2="785.00" stroke="#000" stroke-width="1.8"/>
<text x="130.50" y="789.79" text-anchor="end" font-family="'Liberation Sans', sans-serif" font-weight="bold" font-size="11.4" stroke="#000" stroke-width="0.35">1.5</text>
<line x1="166.05" y1="934.80" x2="166.05" y2="940.30" stroke="#000" stroke-width="1.8"/>
<line x1="209.20" y1="934.80" x2="209.20" y2="940.30" stroke="#000" stroke-width="1.8"/>
<line x1="164.00" y1="802.00" x2="205.00" y2="802.00" stroke="#000" stroke-width="1.8"/>
<line x1="164.00" y1="796.00" x2="164.00" y2="808.50" stroke="#000" stroke-width="1.8"/>
<line x1="205.00" y1="796.00" x2="205.00" y2="808.50" stroke="#000" stroke-width="1.8"/>
<path d="M183.75,788.45L183.75,793.75M181.11,789.77L186.39,792.43M181.11,792.43L186.39,789.77" stroke="#000" stroke-width="2.1" stroke-linecap="round" fill="none"/>
<text transform="translate(106.70,850.00) rotate(-90)" text-anchor="middle" font-family="'Liberation Serif', serif" font-weight="bold" font-size="11.50" textLength="116.40" lengthAdjust="spacingAndGlyphs" stroke="#000" stroke-width="0.6">p21 mRNA expression</text>
<text x="147.70" y="953.70" font-family="'Liberation Serif', serif" font-weight="bold" font-size="11.9" textLength="36.60" lengthAdjust="spacingAndGlyphs" stroke="#000" stroke-width="0.35">Control</text>
<text x="197.00" y="953.70" font-family="'Liberation Serif', serif" font-weight="bold" font-size="11.9" textLength="23.20" lengthAdjust="spacingAndGlyphs" stroke="#000" stroke-width="0.35">sST2</text>
<line x1="391.80" y1="833.00" x2="391.80" y2="832.00" stroke="#000" stroke-width="1.6"/>
<line x1="384.70" y1="832.00" x2="398.90" y2="832.00" stroke="#000" stroke-width="1.6"/>
<rect x="377.60" y="833.00" width="28.40" height="99.80" fill="#000"/>
<line x1="434.85" y1="866.93" x2="434.85" y2="862.94" stroke="#000" stroke-width="1.6"/>
<line x1="427.83" y1="862.94" x2="441.88" y2="862.94" stroke="#000" stroke-width="1.6"/>
<rect x="422.00" y="868.13" width="25.70" height="64.67" fill="#444444" stroke="#000" stroke-width="2.4"/>
<rect x="423.60" y="869.73" width="22.50" height="60.77" fill="none" stroke="#5c5c5c" stroke-width="0.8"/>
<line x1="363.70" y1="782.20" x2="363.70" y2="932.80" stroke="#000" stroke-width="1.8"/>
<line x1="357.70" y1="932.80" x2="463.70" y2="932.80" stroke="#000" stroke-width="1.8"/>
<line x1="357.70" y1="932.80" x2="363.70" y2="932.80" stroke="#000" stroke-width="1.8"/>
<text x="356.20" y="937.71" text-anchor="end" font-family="'Liberation Sans', sans-serif" font-weight="bold" font-size="11.7" stroke="#000" stroke-width="0.35">0.0</text>
<line x1="357.70" y1="882.90" x2="363.70" y2="882.90" stroke="#000" stroke-width="1.8"/>
<text x="356.20" y="887.81" text-anchor="end" font-family="'Liberation Sans', sans-serif" font-weight="bold" font-size="11.7" stroke="#000" stroke-width="0.35">0.5</text>
<line x1="357.70" y1="833.00" x2="363.70" y2="833.00" stroke="#000" stroke-width="1.8"/>
<text x="356.20" y="837.91" text-anchor="end" font-family="'Liberation Sans', sans-serif" font-weight="bold" font-size="11.7" stroke="#000" stroke-width="0.35">1.0</text>
<line x1="357.70" y1="783.10" x2="363.70" y2="783.10" stroke="#000" stroke-width="1.8"/>
<text x="356.20" y="788.01" text-anchor="end" font-family="'Liberation Sans', sans-serif" font-weight="bold" font-size="11.7" stroke="#000" stroke-width="0.35">1.5</text>
<line x1="391.80" y1="932.80" x2="391.80" y2="938.30" stroke="#000" stroke-width="1.8"/>
<line x1="434.85" y1="932.80" x2="434.85" y2="938.30" stroke="#000" stroke-width="1.8"/>
<line x1="391.00" y1="813.00" x2="437.00" y2="813.00" stroke="#000" stroke-width="1.8"/>
<line x1="391.00" y1="807.00" x2="391.00" y2="819.50" stroke="#000" stroke-width="1.8"/>
<line x1="437.00" y1="807.00" x2="437.00" y2="819.50" stroke="#000" stroke-width="1.8"/>
<path d="M408.35,799.45L408.35,804.75M405.71,800.77L410.99,803.43M405.71,803.43L410.99,800.77" stroke="#000" stroke-width="2.1" stroke-linecap="round" fill="none"/><path d="M417.45,799.45L417.45,804.75M414.81,800.77L420.09,803.43M414.81,803.43L420.09,800.77" stroke="#000" stroke-width="2.1" stroke-linecap="round" fill="none"/>
<text transform="translate(332.60,857.40) rotate(-90)" text-anchor="middle" font-family="'Liberation Serif', serif" font-weight="bold" font-size="11.60" textLength="115.60" lengthAdjust="spacingAndGlyphs" stroke="#000" stroke-width="0.6">p53 mRNA expression</text>
<text x="373.20" y="951.70" font-family="'Liberation Serif', serif" font-weight="bold" font-size="11.3" textLength="36.60" lengthAdjust="spacingAndGlyphs" stroke="#000" stroke-width="0.35">Control</text>
<text x="422.50" y="951.70" font-family="'Liberation Serif', serif" font-weight="bold" font-size="11.3" textLength="22.70" lengthAdjust="spacingAndGlyphs" stroke="#000" stroke-width="0.35">sST2</text>
<line x1="604.00" y1="833.60" x2="604.00" y2="829.67" stroke="#000" stroke-width="1.6"/>
<line x1="596.95" y1="829.67" x2="611.05" y2="829.67" stroke="#000" stroke-width="1.6"/>
<rect x="589.90" y="833.60" width="28.20" height="98.20" fill="#000"/>
<line x1="646.75" y1="813.96" x2="646.75" y2="800.21" stroke="#000" stroke-width="1.6"/>
<line x1="639.62" y1="800.21" x2="653.88" y2="800.21" stroke="#000" stroke-width="1.6"/>
<rect x="633.70" y="815.16" width="26.10" height="116.64" fill="#444444" stroke="#000" stroke-width="2.4"/>
<rect x="635.30" y="816.76" width="22.90" height="112.74" fill="none" stroke="#5c5c5c" stroke-width="0.8"/>
<line x1="576.10" y1="783.60" x2="576.10" y2="931.80" stroke="#000" stroke-width="1.8"/>
<line x1="570.10" y1="931.80" x2="676.00" y2="931.80" stroke="#000" stroke-width="1.8"/>
<line x1="570.10" y1="931.80" x2="576.10" y2="931.80" stroke="#000" stroke-width="1.8"/>
<text x="568.70" y="936.50" text-anchor="end" font-family="'Liberation Sans', sans-serif" font-weight="bold" font-size="11.2" stroke="#000" stroke-width="0.35">0.0</text>
<line x1="570.10" y1="882.70" x2="576.10" y2="882.70" stroke="#000" stroke-width="1.8"/>
<text x="568.70" y="887.40" text-anchor="end" font-family="'Liberation Sans', sans-serif" font-weight="bold" font-size="11.2" stroke="#000" stroke-width="0.35">0.5</text>
<line x1="570.10" y1="833.60" x2="576.10" y2="833.60" stroke="#000" stroke-width="1.8"/>
<text x="568.70" y="838.30" text-anchor="end" font-family="'Liberation Sans', sans-serif" font-weight="bold" font-size="11.2" stroke="#000" stroke-width="0.35">1.0</text>
<line x1="570.10" y1="784.50" x2="576.10" y2="784.50" stroke="#000" stroke-width="1.8"/>
<text x="568.70" y="789.20" text-anchor="end" font-family="'Liberation Sans', sans-serif" font-weight="bold" font-size="11.2" stroke="#000" stroke-width="0.35">1.5</text>
<line x1="604.00" y1="931.80" x2="604.00" y2="937.30" stroke="#000" stroke-width="1.8"/>
<line x1="646.75" y1="931.80" x2="646.75" y2="937.30" stroke="#000" stroke-width="1.8"/>
<line x1="601.00" y1="787.00" x2="646.00" y2="787.00" stroke="#000" stroke-width="1.8"/>
<line x1="601.00" y1="781.00" x2="601.00" y2="793.50" stroke="#000" stroke-width="1.8"/>
<line x1="646.00" y1="781.00" x2="646.00" y2="793.50" stroke="#000" stroke-width="1.8"/>
<path d="M622.85,774.75L622.85,780.05M620.21,776.07L625.49,778.73M620.21,778.73L625.49,776.07" stroke="#000" stroke-width="2.1" stroke-linecap="round" fill="none"/>
<text transform="translate(545.50,857.95) rotate(-90)" text-anchor="middle" font-family="'Liberation Serif', serif" font-weight="bold" font-size="12.10" textLength="121.30" lengthAdjust="spacingAndGlyphs" stroke="#000" stroke-width="0.6">Sirt1 mRNA expression</text>
<text x="585.20" y="950.00" font-family="'Liberation Serif', serif" font-weight="bold" font-size="11.0" textLength="36.80" lengthAdjust="spacingAndGlyphs" stroke="#000" stroke-width="0.35">Control</text>
<text x="634.50" y="950.00" font-family="'Liberation Serif', serif" font-weight="bold" font-size="11.0" textLength="22.40" lengthAdjust="spacingAndGlyphs" stroke="#000" stroke-width="0.35">sST2</text>
<text x="2.90" y="18.40" text-anchor="start" font-family="'Liberation Serif', serif" font-weight="bold" font-size="22.5" stroke="#000" stroke-width="0.3">A</text>
<text x="2.20" y="234.10" text-anchor="start" font-family="'Liberation Serif', serif" font-weight="bold" font-size="23.5" stroke="#000" stroke-width="0.3">B</text>
<text x="594.20" y="235.60" text-anchor="start" font-family="'Liberation Serif', serif" font-weight="bold" font-size="25.5" stroke="#000" stroke-width="0.3">C</text>
<text x="2.20" y="489.30" text-anchor="start" font-family="'Liberation Serif', serif" font-weight="bold" font-size="23.5" stroke="#000" stroke-width="0.3">D</text>
<text x="2.20" y="759.30" text-anchor="start" font-family="'Liberation Serif', serif" font-weight="bold" font-size="23.5" stroke="#000" stroke-width="0.3">E</text>
<text x="126.20" y="41.90" text-anchor="end" font-family="'Liberation Serif', serif" font-weight="bold" font-size="13.5" stroke="#000" stroke-width="0.45">Collagen-I</text>
<text x="129.30" y="85.50" text-anchor="end" font-family="'Liberation Serif', serif" font-weight="bold" font-size="13.5" stroke="#000" stroke-width="0.45">Collagen-III</text>
<text x="126.20" y="123.80" text-anchor="end" font-family="'Liberation Serif', serif" font-weight="bold" font-size="13.5" stroke="#000" stroke-width="0.45">α-SMA</text>
<text x="127.20" y="163.40" text-anchor="end" font-family="'Liberation Serif', serif" font-weight="bold" font-size="13.5" stroke="#000" stroke-width="0.45">β-actin</text>
<text x="278.80" y="43.50" text-anchor="start" font-family="'Liberation Serif', serif" font-weight="bold" font-size="12.3" stroke="#000" stroke-width="0.45">118kDa</text>
<text x="278.60" y="85.80" text-anchor="start" font-family="'Liberation Serif', serif" font-weight="bold" font-size="12.3" stroke="#000" stroke-width="0.45">139kDa</text>
<text x="281.60" y="125.00" text-anchor="start" font-family="'Liberation Serif', serif" font-weight="bold" font-size="12.3" stroke="#000" stroke-width="0.45">42kDa</text>
<text x="282.20" y="164.00" text-anchor="start" font-family="'Liberation Serif', serif" font-weight="bold" font-size="12.3" stroke="#000" stroke-width="0.45">42kDa</text>
<text x="109.40" y="525.70" text-anchor="end" font-family="'Liberation Serif', serif" font-weight="bold" font-size="13.5" stroke="#000" stroke-width="0.45">p16</text>
<text x="108.60" y="568.40" text-anchor="end" font-family="'Liberation Serif', serif" font-weight="bold" font-size="13.5" stroke="#000" stroke-width="0.45">p21</text>
<text x="108.80" y="610.50" text-anchor="end" font-family="'Liberation Serif', serif" font-weight="bold" font-size="13.5" stroke="#000" stroke-width="0.45">p53</text>
<text x="110.00" y="646.50" text-anchor="end" font-family="'Liberation Serif', serif" font-weight="bold" font-size="13.5" stroke="#000" stroke-width="0.45">β-actin</text>
<text x="263.80" y="529.10" text-anchor="start" font-family="'Liberation Serif', serif" font-weight="bold" font-size="12.3" stroke="#000" stroke-width="0.45">16kDa</text>
<text x="264.20" y="565.50" text-anchor="start" font-family="'Liberation Serif', serif" font-weight="bold" font-size="12.3" stroke="#000" stroke-width="0.45">21kDa</text>
<text x="264.60" y="607.30" text-anchor="start" font-family="'Liberation Serif', serif" font-weight="bold" font-size="12.3" stroke="#000" stroke-width="0.45">53kDa</text>
<text x="264.60" y="648.40" text-anchor="start" font-family="'Liberation Serif', serif" font-weight="bold" font-size="12.3" stroke="#000" stroke-width="0.45">42kDa</text>
<text transform="translate(171.00,194.80) rotate(-45)" text-anchor="end" font-family="'Liberation Serif', serif" font-size="10.7" stroke="#000" stroke-width="0.55">Control</text>
<text transform="translate(215.70,192.70) rotate(-45)" text-anchor="end" font-family="'Liberation Serif', serif" font-size="10.7" stroke="#000" stroke-width="0.55">sST2(12h)</text>
<text transform="translate(259.70,192.50) rotate(-45)" text-anchor="end" font-family="'Liberation Serif', serif" font-size="10.7" stroke="#000" stroke-width="0.55">sST2(24h)</text>
<text transform="translate(148.30,674.00) rotate(-45)" text-anchor="end" font-family="'Liberation Serif', serif" font-size="10.7" stroke="#000" stroke-width="0.55">Control</text>
<text transform="translate(193.20,671.00) rotate(-45)" text-anchor="end" font-family="'Liberation Serif', serif" font-size="10.7" stroke="#000" stroke-width="0.55">sST2(12h)</text>
<text transform="translate(235.70,671.00) rotate(-45)" text-anchor="end" font-family="'Liberation Serif', serif" font-size="10.7" stroke="#000" stroke-width="0.55">sST2(24h)</text></svg>
</body></html>
